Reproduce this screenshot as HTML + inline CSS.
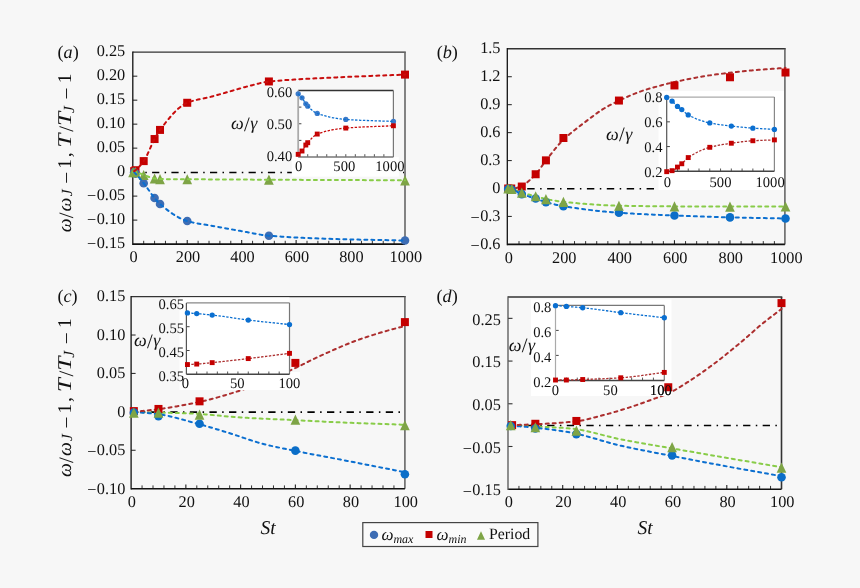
<!DOCTYPE html>
<html><head><meta charset="utf-8"><style>
html,body{margin:0;padding:0;background:#f7f7f7;}
body{width:860px;height:588px;overflow:hidden;font-family:"Liberation Serif",serif;}
svg{display:block;will-change:transform;}
</style></head><body>
<svg width="860" height="588" viewBox="0 0 860 588" font-family='"Liberation Serif", serif' text-rendering="geometricPrecision">
<rect width="860" height="588" fill="#f7f7f7"/>
<line x1="132.80" y1="76.19" x2="137.30" y2="76.19" stroke="#333" stroke-width="1.1"/>
<line x1="132.80" y1="100.18" x2="137.30" y2="100.18" stroke="#333" stroke-width="1.1"/>
<line x1="132.80" y1="124.16" x2="137.30" y2="124.16" stroke="#333" stroke-width="1.1"/>
<line x1="132.80" y1="148.15" x2="137.30" y2="148.15" stroke="#333" stroke-width="1.1"/>
<line x1="132.80" y1="172.14" x2="137.30" y2="172.14" stroke="#333" stroke-width="1.1"/>
<line x1="132.80" y1="196.12" x2="137.30" y2="196.12" stroke="#333" stroke-width="1.1"/>
<line x1="132.80" y1="220.11" x2="137.30" y2="220.11" stroke="#333" stroke-width="1.1"/>
<line x1="143.69" y1="244.10" x2="143.69" y2="240.80" stroke="#333" stroke-width="1.0"/>
<line x1="154.58" y1="244.10" x2="154.58" y2="240.80" stroke="#333" stroke-width="1.0"/>
<line x1="165.46" y1="244.10" x2="165.46" y2="240.80" stroke="#333" stroke-width="1.0"/>
<line x1="176.35" y1="244.10" x2="176.35" y2="240.80" stroke="#333" stroke-width="1.0"/>
<line x1="198.13" y1="244.10" x2="198.13" y2="240.80" stroke="#333" stroke-width="1.0"/>
<line x1="209.02" y1="244.10" x2="209.02" y2="240.80" stroke="#333" stroke-width="1.0"/>
<line x1="219.90" y1="244.10" x2="219.90" y2="240.80" stroke="#333" stroke-width="1.0"/>
<line x1="230.79" y1="244.10" x2="230.79" y2="240.80" stroke="#333" stroke-width="1.0"/>
<line x1="252.57" y1="244.10" x2="252.57" y2="240.80" stroke="#333" stroke-width="1.0"/>
<line x1="263.46" y1="244.10" x2="263.46" y2="240.80" stroke="#333" stroke-width="1.0"/>
<line x1="274.34" y1="244.10" x2="274.34" y2="240.80" stroke="#333" stroke-width="1.0"/>
<line x1="285.23" y1="244.10" x2="285.23" y2="240.80" stroke="#333" stroke-width="1.0"/>
<line x1="307.01" y1="244.10" x2="307.01" y2="240.80" stroke="#333" stroke-width="1.0"/>
<line x1="317.90" y1="244.10" x2="317.90" y2="240.80" stroke="#333" stroke-width="1.0"/>
<line x1="328.78" y1="244.10" x2="328.78" y2="240.80" stroke="#333" stroke-width="1.0"/>
<line x1="339.67" y1="244.10" x2="339.67" y2="240.80" stroke="#333" stroke-width="1.0"/>
<line x1="361.45" y1="244.10" x2="361.45" y2="240.80" stroke="#333" stroke-width="1.0"/>
<line x1="372.34" y1="244.10" x2="372.34" y2="240.80" stroke="#333" stroke-width="1.0"/>
<line x1="383.22" y1="244.10" x2="383.22" y2="240.80" stroke="#333" stroke-width="1.0"/>
<line x1="394.11" y1="244.10" x2="394.11" y2="240.80" stroke="#333" stroke-width="1.0"/>
<line x1="187.24" y1="244.10" x2="187.24" y2="239.90" stroke="#222" stroke-width="1.1"/>
<line x1="241.68" y1="244.10" x2="241.68" y2="239.90" stroke="#222" stroke-width="1.1"/>
<line x1="296.12" y1="244.10" x2="296.12" y2="239.90" stroke="#222" stroke-width="1.1"/>
<line x1="350.56" y1="244.10" x2="350.56" y2="239.90" stroke="#222" stroke-width="1.1"/>
<line x1="132.80" y1="52.20" x2="405.80" y2="52.20" stroke="#333" stroke-width="1.30"/>
<line x1="405.00" y1="52.20" x2="405.00" y2="244.10" stroke="#666" stroke-width="1.60"/>
<line x1="132.80" y1="244.10" x2="405.00" y2="244.10" stroke="#111" stroke-width="1.60"/>
<line x1="132.80" y1="51.55" x2="132.80" y2="244.90" stroke="#111" stroke-width="1.30"/>
<line x1="132.80" y1="172.44" x2="404.00" y2="172.44" stroke="#000" stroke-width="1.6" stroke-dasharray="7.20 5.30 1.5 5.30"/>
<rect x="130.16" y="167.18" width="8.00" height="8.00" fill="#c40000"/>
<rect x="131.52" y="166.22" width="8.00" height="8.00" fill="#c40000"/>
<rect x="139.69" y="157.10" width="8.00" height="8.00" fill="#c40000"/>
<rect x="150.58" y="135.03" width="8.00" height="8.00" fill="#c40000"/>
<rect x="156.02" y="125.92" width="8.00" height="8.00" fill="#c40000"/>
<rect x="183.24" y="98.77" width="8.00" height="8.00" fill="#c40000"/>
<rect x="264.90" y="77.46" width="8.00" height="8.00" fill="#c40000"/>
<rect x="401.00" y="70.60" width="8.00" height="8.00" fill="#c40000"/>
<circle cx="134.16" cy="172.14" r="4.30" fill="#3d6db4"/>
<circle cx="135.52" cy="173.58" r="4.30" fill="#3d6db4"/>
<circle cx="143.69" cy="183.17" r="4.30" fill="#3d6db4"/>
<circle cx="154.58" cy="198.04" r="4.30" fill="#3d6db4"/>
<circle cx="160.02" cy="204.04" r="4.30" fill="#3d6db4"/>
<circle cx="187.24" cy="221.07" r="4.30" fill="#3d6db4"/>
<circle cx="268.90" cy="235.70" r="4.30" fill="#3d6db4"/>
<circle cx="405.00" cy="240.50" r="4.30" fill="#3d6db4"/>
<path d="M133.07 167.04 L137.92 177.24 L128.23 177.24 Z" fill="#7ea446"/>
<path d="M135.52 167.04 L140.37 177.24 L130.68 177.24 Z" fill="#7ea446"/>
<path d="M143.69 169.92 L148.53 180.12 L138.84 180.12 Z" fill="#7ea446"/>
<path d="M154.58 173.42 L159.42 183.62 L149.73 183.62 Z" fill="#7ea446"/>
<path d="M160.02 173.95 L164.87 184.15 L155.18 184.15 Z" fill="#7ea446"/>
<path d="M187.24 174.14 L192.09 184.34 L182.40 184.34 Z" fill="#7ea446"/>
<path d="M268.90 174.62 L273.75 184.82 L264.05 184.82 Z" fill="#7ea446"/>
<path d="M405.00 175.19 L409.85 185.39 L400.15 185.39 Z" fill="#7ea446"/>
<path d="M133.07 172.14 L133.23 172.14 L133.38 172.14 L133.53 172.14 L133.68 172.14 L133.84 172.14 L133.99 172.14 L134.14 172.14 L134.30 172.14 L134.45 172.14 L134.60 172.14 L134.76 172.14 L134.91 172.14 L135.06 172.14 L135.22 172.14 L135.37 172.14 L135.52 172.14 L136.03 172.16 L136.54 172.22 L137.05 172.32 L137.56 172.46 L138.07 172.62 L138.58 172.81 L139.09 173.01 L139.61 173.23 L140.12 173.46 L140.63 173.70 L141.14 173.94 L141.65 174.18 L142.16 174.41 L142.67 174.63 L143.18 174.83 L143.69 175.02 L144.37 175.25 L145.05 175.50 L145.73 175.75 L146.41 176.01 L147.09 176.27 L147.77 176.53 L148.45 176.78 L149.13 177.03 L149.81 177.28 L150.49 177.51 L151.17 177.73 L151.85 177.93 L152.53 178.11 L153.22 178.27 L153.90 178.41 L154.58 178.52 L154.92 178.57 L155.26 178.61 L155.60 178.66 L155.94 178.70 L156.28 178.75 L156.62 178.79 L156.96 178.83 L157.30 178.87 L157.64 178.90 L157.98 178.93 L158.32 178.96 L158.66 178.99 L159.00 179.01 L159.34 179.03 L159.68 179.04 L160.02 179.05 L161.72 179.07 L163.42 179.09 L165.12 179.11 L166.83 179.13 L168.53 179.14 L170.23 179.16 L171.93 179.17 L173.63 179.18 L175.33 179.18 L177.03 179.19 L178.73 179.20 L180.44 179.20 L182.14 179.21 L183.84 179.22 L185.54 179.23 L187.24 179.24 L192.34 179.27 L197.45 179.30 L202.55 179.34 L207.66 179.37 L212.76 179.40 L217.86 179.43 L222.97 179.46 L228.07 179.49 L233.17 179.52 L238.28 179.55 L243.38 179.58 L248.49 179.61 L253.59 179.64 L258.69 179.67 L263.80 179.69 L268.90 179.72 L277.41 179.76 L285.91 179.80 L294.42 179.84 L302.93 179.88 L311.43 179.91 L319.94 179.95 L328.44 179.98 L336.95 180.02 L345.46 180.05 L353.96 180.09 L362.47 180.12 L370.98 180.15 L379.48 180.19 L387.99 180.22 L396.49 180.26 L405.00 180.29" fill="none" stroke="#88cc48" stroke-width="2.00" stroke-dasharray="3.0 4.0" stroke-linecap="round"/>
<path d="M134.16 172.14 L134.25 172.23 L134.33 172.32 L134.42 172.41 L134.50 172.49 L134.59 172.58 L134.67 172.67 L134.76 172.76 L134.84 172.85 L134.93 172.94 L135.01 173.03 L135.10 173.12 L135.18 173.21 L135.27 173.30 L135.35 173.39 L135.44 173.48 L135.52 173.58 L136.03 174.14 L136.54 174.71 L137.05 175.28 L137.56 175.86 L138.07 176.44 L138.58 177.02 L139.09 177.62 L139.61 178.21 L140.12 178.81 L140.63 179.42 L141.14 180.03 L141.65 180.65 L142.16 181.27 L142.67 181.90 L143.18 182.53 L143.69 183.17 L144.37 184.04 L145.05 184.94 L145.73 185.87 L146.41 186.81 L147.09 187.76 L147.77 188.73 L148.45 189.71 L149.13 190.68 L149.81 191.65 L150.49 192.62 L151.17 193.58 L151.85 194.52 L152.53 195.44 L153.22 196.34 L153.90 197.21 L154.58 198.04 L154.92 198.45 L155.26 198.87 L155.60 199.28 L155.94 199.69 L156.28 200.09 L156.62 200.50 L156.96 200.89 L157.30 201.28 L157.64 201.67 L157.98 202.04 L158.32 202.41 L158.66 202.76 L159.00 203.10 L159.34 203.43 L159.68 203.74 L160.02 204.04 L161.72 205.47 L163.42 206.88 L165.12 208.25 L166.83 209.59 L168.53 210.88 L170.23 212.13 L171.93 213.32 L173.63 214.46 L175.33 215.54 L177.03 216.56 L178.73 217.51 L180.44 218.39 L182.14 219.18 L183.84 219.90 L185.54 220.53 L187.24 221.07 L188.94 221.54 L190.64 221.98 L192.34 222.38 L194.05 222.75 L195.75 223.09 L197.45 223.41 L199.15 223.71 L200.85 224.00 L202.55 224.27 L204.25 224.54 L205.95 224.80 L207.66 225.06 L209.36 225.33 L211.06 225.61 L212.76 225.90 L214.46 226.21 L216.16 226.52 L217.86 226.83 L219.56 227.15 L221.27 227.46 L222.97 227.78 L224.67 228.09 L226.37 228.40 L228.07 228.71 L229.77 229.02 L231.47 229.33 L233.17 229.64 L234.88 229.94 L236.58 230.25 L238.28 230.55 L239.98 230.85 L241.68 231.15 L243.38 231.45 L245.08 231.77 L246.78 232.09 L248.49 232.42 L250.19 232.75 L251.89 233.09 L253.59 233.41 L255.29 233.74 L256.99 234.05 L258.69 234.35 L260.39 234.63 L262.10 234.90 L263.80 235.14 L265.50 235.36 L267.20 235.55 L268.90 235.70 L273.15 236.04 L277.41 236.36 L281.66 236.65 L285.91 236.93 L290.17 237.18 L294.42 237.41 L298.67 237.63 L302.93 237.83 L307.18 238.02 L311.43 238.20 L315.68 238.36 L319.94 238.52 L324.19 238.66 L328.44 238.80 L332.70 238.93 L336.95 239.06 L341.20 239.18 L345.46 239.30 L349.71 239.40 L353.96 239.50 L358.22 239.60 L362.47 239.69 L366.72 239.77 L370.98 239.85 L375.23 239.93 L379.48 240.01 L383.73 240.09 L387.99 240.17 L392.24 240.25 L396.49 240.33 L400.75 240.41 L405.00 240.50" fill="none" stroke="#0b6fd0" stroke-width="2.00" stroke-dasharray="3.0 4.0" stroke-linecap="round"/>
<path d="M134.16 171.18 L134.25 171.12 L134.33 171.06 L134.42 171.00 L134.50 170.95 L134.59 170.89 L134.67 170.83 L134.76 170.78 L134.84 170.72 L134.93 170.66 L135.01 170.60 L135.10 170.54 L135.18 170.48 L135.27 170.42 L135.35 170.35 L135.44 170.29 L135.52 170.22 L136.03 169.79 L136.54 169.34 L137.05 168.88 L137.56 168.40 L138.07 167.89 L138.58 167.37 L139.09 166.83 L139.61 166.27 L140.12 165.69 L140.63 165.10 L141.14 164.48 L141.65 163.84 L142.16 163.19 L142.67 162.51 L143.18 161.82 L143.69 161.10 L144.37 160.08 L145.05 158.95 L145.73 157.72 L146.41 156.41 L147.09 155.03 L147.77 153.59 L148.45 152.11 L149.13 150.61 L149.81 149.08 L150.49 147.55 L151.17 146.03 L151.85 144.54 L152.53 143.08 L153.22 141.66 L153.90 140.31 L154.58 139.03 L154.92 138.42 L155.26 137.80 L155.60 137.18 L155.94 136.56 L156.28 135.95 L156.62 135.34 L156.96 134.74 L157.30 134.14 L157.64 133.56 L157.98 132.99 L158.32 132.44 L158.66 131.89 L159.00 131.37 L159.34 130.87 L159.68 130.38 L160.02 129.92 L161.72 127.67 L163.42 125.45 L165.12 123.26 L166.83 121.12 L168.53 119.03 L170.23 117.00 L171.93 115.06 L173.63 113.20 L175.33 111.43 L177.03 109.78 L178.73 108.25 L180.44 106.85 L182.14 105.59 L183.84 104.48 L185.54 103.54 L187.24 102.77 L188.78 102.18 L190.32 101.65 L191.86 101.16 L193.40 100.72 L194.94 100.31 L196.48 99.93 L198.02 99.58 L199.56 99.24 L201.10 98.92 L202.64 98.61 L204.18 98.29 L205.72 97.97 L207.26 97.64 L208.79 97.30 L210.33 96.93 L211.87 96.53 L213.15 96.18 L214.42 95.83 L215.70 95.48 L216.97 95.12 L218.25 94.76 L219.52 94.40 L220.79 94.03 L222.07 93.66 L223.34 93.29 L224.62 92.92 L225.89 92.55 L227.16 92.19 L228.44 91.82 L229.71 91.45 L230.99 91.09 L232.26 90.72 L233.36 90.41 L234.46 90.09 L235.56 89.78 L236.66 89.46 L237.76 89.13 L238.86 88.81 L239.95 88.49 L241.05 88.17 L242.15 87.86 L243.25 87.54 L244.35 87.24 L245.45 86.93 L246.55 86.63 L247.65 86.34 L248.75 86.06 L249.85 85.78 L251.04 85.49 L252.23 85.18 L253.42 84.87 L254.61 84.57 L255.80 84.26 L256.99 83.95 L258.18 83.66 L259.37 83.37 L260.56 83.09 L261.75 82.82 L262.95 82.57 L264.14 82.33 L265.33 82.11 L266.52 81.92 L267.71 81.75 L268.90 81.61 L273.15 81.17 L277.41 80.77 L281.66 80.41 L285.91 80.07 L290.17 79.77 L294.42 79.49 L298.67 79.24 L302.93 79.00 L307.18 78.78 L311.43 78.57 L315.68 78.37 L319.94 78.17 L324.19 77.98 L328.44 77.79 L332.70 77.59 L336.95 77.39 L341.20 77.18 L345.46 76.98 L349.71 76.79 L353.96 76.61 L358.22 76.43 L362.47 76.26 L366.72 76.09 L370.98 75.92 L375.23 75.76 L379.48 75.60 L383.73 75.44 L387.99 75.27 L392.24 75.11 L396.49 74.94 L400.75 74.78 L405.00 74.60" fill="none" stroke="#c80c0c" stroke-width="2.00" stroke-dasharray="3.0 4.0" stroke-linecap="round"/>
<rect x="297.80" y="90.50" width="95.60" height="66.50" fill="#fff"/>
<rect x="291.80" y="157.00" width="107.00" height="19.60" fill="#fff"/>
<line x1="298.20" y1="140.38" x2="301.40" y2="140.38" stroke="#444" stroke-width="1"/>
<line x1="298.20" y1="123.75" x2="301.40" y2="123.75" stroke="#444" stroke-width="1"/>
<line x1="298.20" y1="107.12" x2="301.40" y2="107.12" stroke="#444" stroke-width="1"/>
<line x1="307.72" y1="157.00" x2="307.72" y2="154.20" stroke="#555" stroke-width="1"/>
<line x1="317.24" y1="157.00" x2="317.24" y2="154.20" stroke="#555" stroke-width="1"/>
<line x1="326.76" y1="157.00" x2="326.76" y2="154.20" stroke="#555" stroke-width="1"/>
<line x1="336.28" y1="157.00" x2="336.28" y2="154.20" stroke="#555" stroke-width="1"/>
<line x1="345.80" y1="157.00" x2="345.80" y2="154.20" stroke="#555" stroke-width="1"/>
<line x1="355.32" y1="157.00" x2="355.32" y2="154.20" stroke="#555" stroke-width="1"/>
<line x1="364.84" y1="157.00" x2="364.84" y2="154.20" stroke="#555" stroke-width="1"/>
<line x1="374.36" y1="157.00" x2="374.36" y2="154.20" stroke="#555" stroke-width="1"/>
<line x1="383.88" y1="157.00" x2="383.88" y2="154.20" stroke="#555" stroke-width="1"/>
<line x1="298.20" y1="90.50" x2="393.40" y2="90.50" stroke="#333" stroke-width="1.40"/>
<line x1="393.40" y1="90.50" x2="393.40" y2="157.00" stroke="#777" stroke-width="1.20"/>
<line x1="298.20" y1="157.00" x2="393.40" y2="157.00" stroke="#777" stroke-width="1.40"/>
<line x1="298.20" y1="90.50" x2="298.20" y2="157.00" stroke="#aaa" stroke-width="1.80"/>
<circle cx="298.20" cy="93.83" r="2.65" fill="#3b7ac9"/>
<circle cx="302.01" cy="97.81" r="2.65" fill="#3b7ac9"/>
<circle cx="305.82" cy="103.80" r="2.65" fill="#3b7ac9"/>
<circle cx="307.72" cy="106.13" r="2.65" fill="#3b7ac9"/>
<circle cx="317.24" cy="113.44" r="2.65" fill="#3b7ac9"/>
<circle cx="345.80" cy="119.43" r="2.65" fill="#3b7ac9"/>
<circle cx="393.40" cy="121.42" r="2.65" fill="#3b7ac9"/>
<rect x="295.75" y="151.89" width="4.90" height="4.90" fill="#c40000"/>
<rect x="299.56" y="148.57" width="4.90" height="4.90" fill="#c40000"/>
<rect x="303.37" y="142.58" width="4.90" height="4.90" fill="#c40000"/>
<rect x="305.27" y="140.25" width="4.90" height="4.90" fill="#c40000"/>
<rect x="314.79" y="131.61" width="4.90" height="4.90" fill="#c40000"/>
<rect x="343.35" y="125.62" width="4.90" height="4.90" fill="#c40000"/>
<rect x="390.95" y="123.30" width="4.90" height="4.90" fill="#c40000"/>
<path d="M298.20 93.83 L298.44 94.07 L298.68 94.31 L298.91 94.55 L299.15 94.79 L299.39 95.02 L299.63 95.25 L299.87 95.48 L300.10 95.72 L300.34 95.96 L300.58 96.20 L300.82 96.45 L301.06 96.71 L301.29 96.97 L301.53 97.24 L301.77 97.52 L302.01 97.81 L302.25 98.13 L302.48 98.46 L302.72 98.81 L302.96 99.18 L303.20 99.56 L303.44 99.96 L303.67 100.36 L303.91 100.76 L304.15 101.17 L304.39 101.57 L304.63 101.97 L304.86 102.36 L305.10 102.75 L305.34 103.11 L305.58 103.47 L305.82 103.80 L305.94 103.96 L306.05 104.12 L306.17 104.28 L306.29 104.44 L306.41 104.59 L306.53 104.75 L306.65 104.90 L306.77 105.05 L306.89 105.20 L307.01 105.34 L307.12 105.48 L307.24 105.62 L307.36 105.75 L307.48 105.88 L307.60 106.01 L307.72 106.13 L308.31 106.72 L308.91 107.30 L309.50 107.87 L310.10 108.44 L310.69 108.99 L311.29 109.52 L311.88 110.04 L312.48 110.53 L313.07 111.01 L313.67 111.45 L314.26 111.87 L314.86 112.26 L315.45 112.61 L316.05 112.93 L316.64 113.20 L317.24 113.44 L319.02 114.07 L320.81 114.67 L322.59 115.22 L324.38 115.74 L326.16 116.22 L327.95 116.67 L329.74 117.09 L331.52 117.47 L333.31 117.82 L335.09 118.14 L336.88 118.43 L338.66 118.68 L340.44 118.91 L342.23 119.11 L344.01 119.28 L345.80 119.43 L348.77 119.64 L351.75 119.82 L354.72 119.99 L357.70 120.14 L360.67 120.28 L363.65 120.40 L366.62 120.51 L369.60 120.62 L372.57 120.71 L375.55 120.81 L378.52 120.90 L381.50 121.00 L384.47 121.09 L387.45 121.19 L390.42 121.30 L393.40 121.42" fill="none" stroke="#0b6fd0" stroke-width="1.3" stroke-dasharray="2.4 1.5"/>
<path d="M298.20 154.34 L298.44 154.14 L298.68 153.94 L298.91 153.74 L299.15 153.55 L299.39 153.36 L299.63 153.18 L299.87 152.99 L300.10 152.80 L300.34 152.60 L300.58 152.40 L300.82 152.19 L301.06 151.98 L301.29 151.76 L301.53 151.52 L301.77 151.27 L302.01 151.02 L302.25 150.73 L302.48 150.42 L302.72 150.08 L302.96 149.72 L303.20 149.34 L303.44 148.95 L303.67 148.55 L303.91 148.13 L304.15 147.72 L304.39 147.30 L304.63 146.89 L304.86 146.49 L305.10 146.10 L305.34 145.72 L305.58 145.37 L305.82 145.03 L305.94 144.87 L306.05 144.71 L306.17 144.55 L306.29 144.40 L306.41 144.25 L306.53 144.10 L306.65 143.95 L306.77 143.80 L306.89 143.66 L307.01 143.51 L307.12 143.37 L307.24 143.23 L307.36 143.10 L307.48 142.96 L307.60 142.83 L307.72 142.70 L308.31 142.06 L308.91 141.40 L309.50 140.74 L310.10 140.08 L310.69 139.43 L311.29 138.78 L311.88 138.16 L312.48 137.55 L313.07 136.97 L313.67 136.42 L314.26 135.91 L314.86 135.44 L315.45 135.01 L316.05 134.64 L316.64 134.32 L317.24 134.06 L319.02 133.40 L320.81 132.79 L322.59 132.23 L324.38 131.71 L326.16 131.23 L327.95 130.78 L329.74 130.38 L331.52 130.01 L333.31 129.67 L335.09 129.36 L336.88 129.08 L338.66 128.83 L340.44 128.61 L342.23 128.41 L344.01 128.23 L345.80 128.07 L348.77 127.84 L351.75 127.62 L354.72 127.43 L357.70 127.26 L360.67 127.10 L363.65 126.96 L366.62 126.83 L369.60 126.70 L372.57 126.59 L375.55 126.47 L378.52 126.36 L381.50 126.25 L384.47 126.13 L387.45 126.01 L390.42 125.88 L393.40 125.75" fill="none" stroke="#c80c0c" stroke-width="1.3" stroke-dasharray="2.4 1.5"/>
<text x="292.20" y="161.30" font-size="14.60" text-anchor="end" fill="#111">0.40</text>
<text x="292.20" y="128.65" font-size="14.60" text-anchor="end" fill="#111">0.50</text>
<text x="292.20" y="97.30" font-size="14.60" text-anchor="end" fill="#111">0.60</text>
<text x="298.70" y="171.00" font-size="14.60" text-anchor="middle" fill="#111">0</text>
<text x="344.30" y="171.00" font-size="14.60" text-anchor="middle" fill="#111">500</text>
<text x="389.90" y="171.00" font-size="14.60" text-anchor="middle" fill="#111">1000</text>
<text x="231.00" y="129.20" font-size="18" font-style="italic" fill="#111">ω<tspan font-style="normal" font-size="20.5" dx="0.2" dy="1.8">/</tspan><tspan dx="0.6" dy="-1.8">γ</tspan></text>
<text x="125.20" y="55.80" font-size="16.30" text-anchor="end" fill="#111">0.25</text>
<text x="125.20" y="79.79" font-size="16.30" text-anchor="end" fill="#111">0.20</text>
<text x="125.20" y="103.78" font-size="16.30" text-anchor="end" fill="#111">0.15</text>
<text x="125.20" y="127.76" font-size="16.30" text-anchor="end" fill="#111">0.10</text>
<text x="125.20" y="151.75" font-size="16.30" text-anchor="end" fill="#111">0.05</text>
<text x="125.20" y="175.74" font-size="16.30" text-anchor="end" fill="#111">0</text>
<text x="125.20" y="199.72" font-size="16.30" text-anchor="end" fill="#111"><tspan dy="1.6">−</tspan><tspan dy="-1.6" dx="0.4">0.05</tspan></text>
<text x="125.20" y="223.71" font-size="16.30" text-anchor="end" fill="#111"><tspan dy="1.6">−</tspan><tspan dy="-1.6" dx="0.4">0.10</tspan></text>
<text x="125.20" y="247.70" font-size="16.30" text-anchor="end" fill="#111"><tspan dy="1.6">−</tspan><tspan dy="-1.6" dx="0.4">0.15</tspan></text>
<text x="133.60" y="261.60" font-size="16.30" text-anchor="middle" fill="#111">0</text>
<text x="188.04" y="261.60" font-size="16.30" text-anchor="middle" fill="#111">200</text>
<text x="242.48" y="261.60" font-size="16.30" text-anchor="middle" fill="#111">400</text>
<text x="296.92" y="261.60" font-size="16.30" text-anchor="middle" fill="#111">600</text>
<text x="351.36" y="261.60" font-size="16.30" text-anchor="middle" fill="#111">800</text>
<text x="405.80" y="261.60" font-size="16.30" text-anchor="middle" fill="#111">1000</text>
<line x1="507.30" y1="76.70" x2="511.80" y2="76.70" stroke="#333" stroke-width="1.1"/>
<line x1="507.30" y1="104.65" x2="511.80" y2="104.65" stroke="#333" stroke-width="1.1"/>
<line x1="507.30" y1="132.60" x2="511.80" y2="132.60" stroke="#333" stroke-width="1.1"/>
<line x1="507.30" y1="160.55" x2="511.80" y2="160.55" stroke="#333" stroke-width="1.1"/>
<line x1="507.30" y1="188.50" x2="511.80" y2="188.50" stroke="#333" stroke-width="1.1"/>
<line x1="507.30" y1="216.45" x2="511.80" y2="216.45" stroke="#333" stroke-width="1.1"/>
<line x1="519.00" y1="244.40" x2="519.00" y2="241.10" stroke="#333" stroke-width="1.0"/>
<line x1="530.11" y1="244.40" x2="530.11" y2="241.10" stroke="#333" stroke-width="1.0"/>
<line x1="541.21" y1="244.40" x2="541.21" y2="241.10" stroke="#333" stroke-width="1.0"/>
<line x1="552.32" y1="244.40" x2="552.32" y2="241.10" stroke="#333" stroke-width="1.0"/>
<line x1="574.52" y1="244.40" x2="574.52" y2="241.10" stroke="#333" stroke-width="1.0"/>
<line x1="585.63" y1="244.40" x2="585.63" y2="241.10" stroke="#333" stroke-width="1.0"/>
<line x1="596.73" y1="244.40" x2="596.73" y2="241.10" stroke="#333" stroke-width="1.0"/>
<line x1="607.84" y1="244.40" x2="607.84" y2="241.10" stroke="#333" stroke-width="1.0"/>
<line x1="630.04" y1="244.40" x2="630.04" y2="241.10" stroke="#333" stroke-width="1.0"/>
<line x1="641.15" y1="244.40" x2="641.15" y2="241.10" stroke="#333" stroke-width="1.0"/>
<line x1="652.25" y1="244.40" x2="652.25" y2="241.10" stroke="#333" stroke-width="1.0"/>
<line x1="663.36" y1="244.40" x2="663.36" y2="241.10" stroke="#333" stroke-width="1.0"/>
<line x1="685.56" y1="244.40" x2="685.56" y2="241.10" stroke="#333" stroke-width="1.0"/>
<line x1="696.67" y1="244.40" x2="696.67" y2="241.10" stroke="#333" stroke-width="1.0"/>
<line x1="707.77" y1="244.40" x2="707.77" y2="241.10" stroke="#333" stroke-width="1.0"/>
<line x1="718.88" y1="244.40" x2="718.88" y2="241.10" stroke="#333" stroke-width="1.0"/>
<line x1="741.08" y1="244.40" x2="741.08" y2="241.10" stroke="#333" stroke-width="1.0"/>
<line x1="752.19" y1="244.40" x2="752.19" y2="241.10" stroke="#333" stroke-width="1.0"/>
<line x1="763.29" y1="244.40" x2="763.29" y2="241.10" stroke="#333" stroke-width="1.0"/>
<line x1="774.40" y1="244.40" x2="774.40" y2="241.10" stroke="#333" stroke-width="1.0"/>
<line x1="563.42" y1="244.40" x2="563.42" y2="240.20" stroke="#222" stroke-width="1.1"/>
<line x1="618.94" y1="244.40" x2="618.94" y2="240.20" stroke="#222" stroke-width="1.1"/>
<line x1="674.46" y1="244.40" x2="674.46" y2="240.20" stroke="#222" stroke-width="1.1"/>
<line x1="729.98" y1="244.40" x2="729.98" y2="240.20" stroke="#222" stroke-width="1.1"/>
<line x1="507.30" y1="48.75" x2="785.70" y2="48.75" stroke="#333" stroke-width="1.30"/>
<line x1="784.90" y1="48.75" x2="784.90" y2="244.40" stroke="#666" stroke-width="1.60"/>
<line x1="507.30" y1="244.40" x2="784.90" y2="244.40" stroke="#111" stroke-width="1.60"/>
<line x1="507.30" y1="48.10" x2="507.30" y2="245.20" stroke="#111" stroke-width="1.30"/>
<line x1="507.30" y1="188.80" x2="783.90" y2="188.80" stroke="#000" stroke-width="1.6" stroke-dasharray="7.42 5.49 1.5 5.49"/>
<path d="M508.18 188.50 L508.40 188.53 L508.63 188.56 L508.85 188.58 L509.08 188.61 L509.31 188.63 L509.53 188.66 L509.76 188.68 L509.98 188.71 L510.21 188.74 L510.43 188.77 L510.66 188.79 L510.88 188.82 L511.11 188.86 L511.34 188.89 L511.56 188.93 L511.79 188.97 L512.41 189.09 L513.04 189.25 L513.66 189.44 L514.28 189.66 L514.91 189.89 L515.53 190.14 L516.16 190.40 L516.78 190.67 L517.41 190.95 L518.03 191.22 L518.66 191.50 L519.28 191.76 L519.91 192.02 L520.53 192.26 L521.16 192.49 L521.78 192.69 L522.65 192.95 L523.51 193.20 L524.38 193.44 L525.25 193.67 L526.12 193.90 L526.99 194.11 L527.85 194.33 L528.72 194.54 L529.59 194.74 L530.46 194.95 L531.32 195.16 L532.19 195.36 L533.06 195.57 L533.93 195.79 L534.79 196.01 L535.66 196.23 L536.30 196.41 L536.94 196.58 L537.59 196.77 L538.23 196.95 L538.87 197.14 L539.51 197.33 L540.15 197.52 L540.80 197.70 L541.44 197.89 L542.08 198.07 L542.72 198.25 L543.36 198.42 L544.01 198.59 L544.65 198.74 L545.29 198.89 L545.93 199.03 L547.02 199.25 L548.12 199.47 L549.21 199.68 L550.30 199.89 L551.40 200.09 L552.49 200.28 L553.58 200.47 L554.68 200.65 L555.77 200.82 L556.86 200.99 L557.95 201.15 L559.05 201.30 L560.14 201.44 L561.23 201.58 L562.33 201.70 L563.42 201.82 L566.89 202.18 L570.36 202.53 L573.83 202.87 L577.30 203.20 L580.77 203.52 L584.24 203.82 L587.71 204.10 L591.18 204.37 L594.65 204.62 L598.12 204.85 L601.59 205.05 L605.06 205.24 L608.53 205.40 L612.00 205.54 L615.47 205.65 L618.94 205.74 L622.41 205.80 L625.88 205.87 L629.35 205.93 L632.82 205.98 L636.29 206.03 L639.76 206.08 L643.23 206.12 L646.70 206.17 L650.17 206.20 L653.64 206.24 L657.11 206.27 L660.58 206.30 L664.05 206.32 L667.52 206.35 L670.99 206.37 L674.46 206.39 L677.93 206.41 L681.40 206.42 L684.87 206.44 L688.34 206.46 L691.81 206.47 L695.28 206.49 L698.75 206.50 L702.22 206.52 L705.69 206.53 L709.16 206.54 L712.63 206.55 L716.10 206.56 L719.57 206.57 L723.04 206.57 L726.51 206.57 L729.98 206.57 L733.45 206.57 L736.92 206.57 L740.39 206.57 L743.86 206.56 L747.33 206.56 L750.80 206.55 L754.27 206.55 L757.74 206.54 L761.21 206.53 L764.68 206.52 L768.15 206.52 L771.62 206.51 L775.09 206.50 L778.56 206.49 L782.03 206.49 L785.50 206.48" fill="none" stroke="#88cc48" stroke-width="2.00" stroke-dasharray="3.0 4.0" stroke-linecap="round"/>
<path d="M508.18 188.97 L508.39 188.99 L508.59 189.02 L508.80 189.05 L509.01 189.07 L509.22 189.10 L509.43 189.12 L509.64 189.15 L509.84 189.18 L510.05 189.20 L510.26 189.23 L510.47 189.26 L510.68 189.29 L510.88 189.32 L511.09 189.36 L511.30 189.39 L511.51 189.43 L512.15 189.58 L512.79 189.77 L513.43 190.00 L514.08 190.26 L514.72 190.55 L515.36 190.86 L516.00 191.19 L516.64 191.52 L517.29 191.87 L517.93 192.22 L518.57 192.57 L519.21 192.91 L519.85 193.23 L520.50 193.54 L521.14 193.83 L521.78 194.09 L522.65 194.41 L523.51 194.72 L524.38 195.02 L525.25 195.31 L526.12 195.60 L526.99 195.87 L527.85 196.14 L528.72 196.41 L529.59 196.67 L530.46 196.93 L531.32 197.19 L532.19 197.46 L533.06 197.73 L533.93 198.00 L534.79 198.28 L535.66 198.56 L536.30 198.78 L536.94 199.00 L537.59 199.23 L538.23 199.46 L538.87 199.69 L539.51 199.93 L540.15 200.16 L540.80 200.40 L541.44 200.63 L542.08 200.86 L542.72 201.08 L543.36 201.30 L544.01 201.51 L544.65 201.72 L545.29 201.92 L545.93 202.10 L547.02 202.41 L548.12 202.71 L549.21 203.01 L550.30 203.30 L551.40 203.59 L552.49 203.87 L553.58 204.14 L554.68 204.41 L555.77 204.67 L556.86 204.92 L557.95 205.16 L559.05 205.39 L560.14 205.61 L561.23 205.82 L562.33 206.01 L563.42 206.20 L566.89 206.77 L570.36 207.31 L573.83 207.83 L577.30 208.33 L580.77 208.81 L584.24 209.27 L587.71 209.71 L591.18 210.13 L594.65 210.52 L598.12 210.90 L601.59 211.25 L605.06 211.59 L608.53 211.90 L612.00 212.19 L615.47 212.47 L618.94 212.72 L622.41 212.96 L625.88 213.19 L629.35 213.40 L632.82 213.61 L636.29 213.80 L639.76 213.98 L643.23 214.16 L646.70 214.33 L650.17 214.49 L653.64 214.65 L657.11 214.80 L660.58 214.95 L664.05 215.10 L667.52 215.24 L670.99 215.38 L674.46 215.52 L677.93 215.66 L681.40 215.79 L684.87 215.93 L688.34 216.06 L691.81 216.19 L695.28 216.31 L698.75 216.44 L702.22 216.55 L705.69 216.67 L709.16 216.78 L712.63 216.89 L716.10 217.00 L719.57 217.10 L723.04 217.20 L726.51 217.29 L729.98 217.38 L733.45 217.47 L736.92 217.55 L740.39 217.63 L743.86 217.70 L747.33 217.77 L750.80 217.84 L754.27 217.91 L757.74 217.98 L761.21 218.04 L764.68 218.10 L768.15 218.17 L771.62 218.23 L775.09 218.30 L778.56 218.36 L782.03 218.43 L785.50 218.50" fill="none" stroke="#0b6fd0" stroke-width="2.00" stroke-dasharray="3.0 4.0" stroke-linecap="round"/>
<path d="M507.90 188.50 L508.33 188.48 L508.77 188.47 L509.20 188.45 L509.64 188.44 L510.07 188.43 L510.50 188.41 L510.94 188.40 L511.37 188.39 L511.80 188.37 L512.24 188.36 L512.67 188.34 L513.11 188.32 L513.54 188.30 L513.97 188.28 L514.41 188.25 L514.84 188.22 L515.27 188.18 L515.71 188.12 L516.14 188.03 L516.58 187.94 L517.01 187.82 L517.44 187.69 L517.88 187.55 L518.31 187.39 L518.74 187.22 L519.18 187.05 L519.61 186.87 L520.05 186.68 L520.48 186.49 L520.91 186.29 L521.35 186.09 L521.78 185.89 L522.65 185.46 L523.51 184.98 L524.38 184.44 L525.25 183.86 L526.12 183.22 L526.99 182.55 L527.85 181.83 L528.72 181.08 L529.59 180.30 L530.46 179.49 L531.32 178.66 L532.19 177.80 L533.06 176.93 L533.93 176.04 L534.79 175.15 L535.66 174.25 L536.30 173.55 L536.94 172.81 L537.59 172.03 L538.23 171.21 L538.87 170.36 L539.51 169.49 L540.15 168.60 L540.80 167.69 L541.44 166.77 L542.08 165.85 L542.72 164.93 L543.36 164.02 L544.01 163.12 L544.65 162.24 L545.29 161.38 L545.93 160.55 L547.02 159.16 L548.12 157.76 L549.21 156.36 L550.30 154.96 L551.40 153.57 L552.49 152.19 L553.58 150.81 L554.68 149.45 L555.77 148.12 L556.86 146.80 L557.95 145.51 L559.05 144.25 L560.14 143.03 L561.23 141.84 L562.33 140.69 L563.42 139.59 L563.92 139.10 L564.43 138.62 L564.93 138.15 L565.43 137.69 L565.94 137.24 L566.44 136.79 L566.94 136.36 L567.45 135.93 L567.95 135.50 L568.45 135.08 L568.95 134.66 L569.46 134.25 L569.96 133.84 L570.46 133.42 L570.97 133.01 L571.47 132.60 L572.46 131.79 L573.45 130.99 L574.44 130.20 L575.43 129.42 L576.42 128.64 L577.40 127.87 L578.39 127.10 L579.38 126.34 L580.37 125.59 L581.36 124.84 L582.35 124.09 L583.34 123.35 L584.33 122.61 L585.32 121.87 L586.30 121.13 L587.29 120.40 L588.30 119.64 L589.31 118.89 L590.31 118.12 L591.32 117.36 L592.33 116.60 L593.33 115.84 L594.34 115.09 L595.34 114.34 L596.35 113.60 L597.36 112.87 L598.36 112.15 L599.37 111.45 L600.38 110.77 L601.38 110.11 L602.39 109.46 L603.39 108.84 L604.40 108.24 L605.41 107.66 L606.41 107.08 L607.42 106.52 L608.43 105.97 L609.43 105.43 L610.44 104.90 L611.44 104.38 L612.45 103.87 L613.46 103.37 L614.46 102.87 L615.47 102.38 L616.48 101.89 L617.48 101.41 L618.49 100.93 L619.50 100.46 L620.83 99.83 L622.17 99.20 L623.50 98.58 L624.84 97.96 L626.17 97.35 L627.51 96.74 L628.85 96.15 L630.18 95.56 L631.52 94.98 L632.85 94.42 L634.19 93.86 L635.53 93.32 L636.86 92.80 L638.20 92.29 L639.53 91.80 L640.87 91.33 L642.21 90.87 L643.54 90.43 L644.88 89.99 L646.21 89.57 L647.55 89.16 L648.89 88.76 L650.22 88.37 L651.56 87.99 L652.89 87.61 L654.23 87.24 L655.57 86.87 L656.90 86.51 L658.24 86.15 L659.57 85.79 L660.91 85.44 L662.25 85.09 L663.08 84.87 L663.91 84.65 L664.74 84.43 L665.58 84.22 L666.41 84.01 L667.24 83.80 L668.08 83.59 L668.91 83.38 L669.74 83.18 L670.57 82.98 L671.41 82.78 L672.24 82.58 L673.07 82.39 L673.90 82.20 L674.74 82.01 L675.57 81.82 L677.24 81.46 L678.90 81.09 L680.57 80.72 L682.23 80.36 L683.90 80.01 L685.56 79.66 L687.23 79.31 L688.90 78.97 L690.56 78.63 L692.23 78.31 L693.89 77.99 L695.56 77.67 L697.22 77.37 L698.89 77.07 L700.55 76.79 L702.22 76.51 L704.06 76.22 L705.90 75.93 L707.74 75.65 L709.58 75.38 L711.42 75.11 L713.25 74.84 L715.09 74.59 L716.93 74.34 L718.77 74.09 L720.61 73.85 L722.45 73.62 L724.29 73.39 L726.13 73.16 L727.97 72.94 L729.81 72.72 L731.65 72.51 L733.33 72.31 L735.01 72.13 L736.69 71.94 L738.38 71.76 L740.06 71.57 L741.74 71.40 L743.43 71.22 L745.11 71.05 L746.79 70.88 L748.48 70.72 L750.16 70.56 L751.84 70.40 L753.52 70.25 L755.21 70.10 L756.89 69.95 L758.57 69.81 L760.26 69.67 L761.94 69.53 L763.62 69.40 L765.30 69.27 L766.99 69.15 L768.67 69.03 L770.35 68.91 L772.04 68.79 L773.72 68.67 L775.40 68.56 L777.09 68.44 L778.77 68.32 L780.45 68.21 L782.13 68.09 L783.82 67.97 L785.50 67.85" fill="none" stroke="#ac2e2e" stroke-width="2.00" stroke-dasharray="3.0 4.0" stroke-linecap="round"/>
<rect x="504.18" y="184.50" width="8.00" height="8.00" fill="#c40000"/>
<rect x="507.23" y="184.50" width="8.00" height="8.00" fill="#c40000"/>
<rect x="517.78" y="182.54" width="8.00" height="8.00" fill="#c40000"/>
<rect x="531.66" y="170.25" width="8.00" height="8.00" fill="#c40000"/>
<rect x="541.93" y="156.36" width="8.00" height="8.00" fill="#c40000"/>
<rect x="559.42" y="134.00" width="8.00" height="8.00" fill="#c40000"/>
<rect x="614.94" y="96.55" width="8.00" height="8.00" fill="#c40000"/>
<rect x="670.46" y="81.46" width="8.00" height="8.00" fill="#c40000"/>
<rect x="725.98" y="73.26" width="8.00" height="8.00" fill="#c40000"/>
<rect x="781.50" y="68.51" width="8.00" height="8.00" fill="#c40000"/>
<circle cx="508.18" cy="188.97" r="4.30" fill="#0b6ec8"/>
<circle cx="511.51" cy="189.43" r="4.30" fill="#0b6ec8"/>
<circle cx="521.78" cy="194.09" r="4.30" fill="#0b6ec8"/>
<circle cx="535.66" cy="198.56" r="4.30" fill="#0b6ec8"/>
<circle cx="545.93" cy="202.10" r="4.30" fill="#0b6ec8"/>
<circle cx="563.42" cy="206.20" r="4.30" fill="#0b6ec8"/>
<circle cx="618.94" cy="212.72" r="4.30" fill="#0b6ec8"/>
<circle cx="674.46" cy="215.52" r="4.30" fill="#0b6ec8"/>
<circle cx="729.98" cy="217.38" r="4.30" fill="#0b6ec8"/>
<circle cx="785.50" cy="218.50" r="4.30" fill="#0b6ec8"/>
<path d="M508.18 183.40 L513.02 193.60 L503.33 193.60 Z" fill="#7ea446"/>
<path d="M511.79 183.87 L516.63 194.07 L506.94 194.07 Z" fill="#7ea446"/>
<path d="M521.78 187.59 L526.63 197.79 L516.94 197.79 Z" fill="#7ea446"/>
<path d="M535.66 191.13 L540.51 201.33 L530.82 201.33 Z" fill="#7ea446"/>
<path d="M545.93 193.93 L550.78 204.13 L541.09 204.13 Z" fill="#7ea446"/>
<path d="M563.42 196.72 L568.27 206.92 L558.58 206.92 Z" fill="#7ea446"/>
<path d="M618.94 200.64 L623.79 210.84 L614.10 210.84 Z" fill="#7ea446"/>
<path d="M674.46 201.29 L679.31 211.49 L669.62 211.49 Z" fill="#7ea446"/>
<path d="M729.98 201.47 L734.83 211.67 L725.13 211.67 Z" fill="#7ea446"/>
<path d="M785.50 201.38 L790.35 211.58 L780.65 211.58 Z" fill="#7ea446"/>
<rect x="658.50" y="91.00" width="125.50" height="99.00" fill="#fff"/>
<line x1="666.70" y1="146.57" x2="669.90" y2="146.57" stroke="#444" stroke-width="1"/>
<line x1="666.70" y1="121.83" x2="669.90" y2="121.83" stroke="#444" stroke-width="1"/>
<line x1="677.47" y1="171.30" x2="677.47" y2="168.50" stroke="#555" stroke-width="1"/>
<line x1="688.24" y1="171.30" x2="688.24" y2="168.50" stroke="#555" stroke-width="1"/>
<line x1="699.01" y1="171.30" x2="699.01" y2="168.50" stroke="#555" stroke-width="1"/>
<line x1="709.78" y1="171.30" x2="709.78" y2="168.50" stroke="#555" stroke-width="1"/>
<line x1="720.55" y1="171.30" x2="720.55" y2="168.50" stroke="#555" stroke-width="1"/>
<line x1="731.32" y1="171.30" x2="731.32" y2="168.50" stroke="#555" stroke-width="1"/>
<line x1="742.09" y1="171.30" x2="742.09" y2="168.50" stroke="#555" stroke-width="1"/>
<line x1="752.86" y1="171.30" x2="752.86" y2="168.50" stroke="#555" stroke-width="1"/>
<line x1="763.63" y1="171.30" x2="763.63" y2="168.50" stroke="#555" stroke-width="1"/>
<line x1="666.70" y1="97.10" x2="774.40" y2="97.10" stroke="#aaa" stroke-width="1.40"/>
<line x1="774.40" y1="97.10" x2="774.40" y2="171.30" stroke="#888" stroke-width="1.20"/>
<line x1="666.70" y1="171.30" x2="774.40" y2="171.30" stroke="#444" stroke-width="1.50"/>
<line x1="666.70" y1="97.10" x2="666.70" y2="171.30" stroke="#555" stroke-width="1.20"/>
<path d="M666.70 97.47 L667.04 97.70 L667.37 97.93 L667.71 98.15 L668.05 98.37 L668.38 98.59 L668.72 98.81 L669.06 99.03 L669.39 99.25 L669.73 99.47 L670.07 99.70 L670.40 99.93 L670.74 100.17 L671.08 100.41 L671.41 100.66 L671.75 100.92 L672.09 101.18 L672.42 101.46 L672.76 101.76 L673.09 102.07 L673.43 102.39 L673.77 102.72 L674.10 103.06 L674.44 103.41 L674.78 103.76 L675.11 104.10 L675.45 104.45 L675.79 104.79 L676.12 105.13 L676.46 105.46 L676.80 105.78 L677.13 106.08 L677.47 106.38 L677.74 106.60 L678.01 106.81 L678.28 107.02 L678.55 107.23 L678.82 107.43 L679.09 107.63 L679.35 107.82 L679.62 108.01 L679.89 108.21 L680.16 108.40 L680.43 108.59 L680.70 108.78 L680.97 108.98 L681.24 109.18 L681.51 109.38 L681.78 109.59 L682.18 109.91 L682.59 110.25 L682.99 110.60 L683.39 110.96 L683.80 111.33 L684.20 111.70 L684.61 112.07 L685.01 112.43 L685.41 112.80 L685.82 113.15 L686.22 113.49 L686.62 113.81 L687.03 114.12 L687.43 114.41 L687.84 114.67 L688.24 114.91 L689.59 115.63 L690.93 116.33 L692.28 116.99 L693.62 117.62 L694.97 118.22 L696.32 118.80 L697.66 119.34 L699.01 119.85 L700.36 120.34 L701.70 120.79 L703.05 121.22 L704.39 121.62 L705.74 121.99 L707.09 122.34 L708.43 122.65 L709.78 122.95 L711.13 123.22 L712.47 123.47 L713.82 123.71 L715.16 123.94 L716.51 124.15 L717.86 124.36 L719.20 124.55 L720.55 124.74 L721.90 124.91 L723.24 125.09 L724.59 125.25 L725.94 125.41 L727.28 125.57 L728.63 125.73 L729.97 125.88 L731.32 126.04 L732.67 126.19 L734.01 126.35 L735.36 126.50 L736.71 126.65 L738.05 126.79 L739.40 126.93 L740.74 127.07 L742.09 127.21 L743.44 127.34 L744.78 127.47 L746.13 127.59 L747.48 127.71 L748.82 127.83 L750.17 127.94 L751.51 128.04 L752.86 128.14 L754.21 128.24 L755.55 128.33 L756.90 128.41 L758.25 128.49 L759.59 128.57 L760.94 128.65 L762.28 128.73 L763.63 128.80 L764.98 128.87 L766.32 128.94 L767.67 129.01 L769.01 129.08 L770.36 129.15 L771.71 129.23 L773.05 129.30 L774.40 129.38" fill="none" stroke="#0b6fd0" stroke-width="1.3" stroke-dasharray="2.4 1.5"/>
<path d="M666.70 171.67 L667.04 171.61 L667.37 171.56 L667.71 171.50 L668.05 171.45 L668.38 171.40 L668.72 171.35 L669.06 171.30 L669.39 171.25 L669.73 171.19 L670.07 171.13 L670.40 171.07 L670.74 171.01 L671.08 170.94 L671.41 170.86 L671.75 170.77 L672.09 170.68 L672.42 170.57 L672.76 170.43 L673.09 170.27 L673.43 170.08 L673.77 169.88 L674.10 169.66 L674.44 169.42 L674.78 169.18 L675.11 168.92 L675.45 168.66 L675.79 168.39 L676.12 168.13 L676.46 167.86 L676.80 167.60 L677.13 167.34 L677.47 167.10 L677.74 166.90 L678.01 166.71 L678.28 166.51 L678.55 166.31 L678.82 166.11 L679.09 165.91 L679.35 165.70 L679.62 165.50 L679.89 165.29 L680.16 165.08 L680.43 164.86 L680.70 164.65 L680.97 164.43 L681.24 164.21 L681.51 163.98 L681.78 163.76 L682.18 163.40 L682.59 163.02 L682.99 162.63 L683.39 162.22 L683.80 161.80 L684.20 161.38 L684.61 160.95 L685.01 160.52 L685.41 160.10 L685.82 159.69 L686.22 159.28 L686.62 158.90 L687.03 158.53 L687.43 158.18 L687.84 157.86 L688.24 157.57 L689.59 156.68 L690.93 155.82 L692.28 154.99 L693.62 154.19 L694.97 153.43 L696.32 152.70 L697.66 152.01 L699.01 151.35 L700.36 150.72 L701.70 150.13 L703.05 149.57 L704.39 149.05 L705.74 148.56 L707.09 148.11 L708.43 147.69 L709.78 147.31 L711.13 146.95 L712.47 146.62 L713.82 146.30 L715.16 145.99 L716.51 145.71 L717.86 145.43 L719.20 145.17 L720.55 144.92 L721.90 144.69 L723.24 144.46 L724.59 144.24 L725.94 144.02 L727.28 143.82 L728.63 143.62 L729.97 143.42 L731.32 143.23 L732.67 143.04 L734.01 142.84 L735.36 142.65 L736.71 142.47 L738.05 142.29 L739.40 142.11 L740.74 141.93 L742.09 141.77 L743.44 141.61 L744.78 141.45 L746.13 141.31 L747.48 141.18 L748.82 141.05 L750.17 140.94 L751.51 140.84 L752.86 140.75 L754.21 140.68 L755.55 140.61 L756.90 140.54 L758.25 140.48 L759.59 140.42 L760.94 140.37 L762.28 140.32 L763.63 140.27 L764.98 140.22 L766.32 140.18 L767.67 140.13 L769.01 140.09 L770.36 140.04 L771.71 139.99 L773.05 139.94 L774.40 139.89" fill="none" stroke="#ac2e2e" stroke-width="1.3" stroke-dasharray="2.4 1.5"/>
<circle cx="666.70" cy="97.47" r="2.65" fill="#0b6fd0"/>
<circle cx="672.09" cy="101.18" r="2.65" fill="#0b6fd0"/>
<circle cx="677.47" cy="106.38" r="2.65" fill="#0b6fd0"/>
<circle cx="681.78" cy="109.59" r="2.65" fill="#0b6fd0"/>
<circle cx="688.24" cy="114.91" r="2.65" fill="#0b6fd0"/>
<circle cx="709.78" cy="122.95" r="2.65" fill="#0b6fd0"/>
<circle cx="731.32" cy="126.04" r="2.65" fill="#0b6fd0"/>
<circle cx="752.86" cy="128.14" r="2.65" fill="#0b6fd0"/>
<circle cx="774.40" cy="129.38" r="2.65" fill="#0b6fd0"/>
<rect x="664.25" y="169.22" width="4.90" height="4.90" fill="#c40000"/>
<rect x="669.63" y="168.23" width="4.90" height="4.90" fill="#c40000"/>
<rect x="675.02" y="164.65" width="4.90" height="4.90" fill="#c40000"/>
<rect x="679.33" y="161.31" width="4.90" height="4.90" fill="#c40000"/>
<rect x="685.79" y="155.12" width="4.90" height="4.90" fill="#c40000"/>
<rect x="707.33" y="144.86" width="4.90" height="4.90" fill="#c40000"/>
<rect x="728.87" y="140.78" width="4.90" height="4.90" fill="#c40000"/>
<rect x="750.41" y="138.30" width="4.90" height="4.90" fill="#c40000"/>
<rect x="771.95" y="137.44" width="4.90" height="4.90" fill="#c40000"/>
<text x="662.50" y="176.60" font-size="14.60" text-anchor="end" fill="#111">0.2</text>
<text x="662.50" y="151.87" font-size="14.60" text-anchor="end" fill="#111">0.4</text>
<text x="662.50" y="127.13" font-size="14.60" text-anchor="end" fill="#111">0.6</text>
<text x="662.50" y="102.40" font-size="14.60" text-anchor="end" fill="#111">0.8</text>
<text x="667.50" y="186.70" font-size="14.60" text-anchor="middle" fill="#111">0</text>
<text x="720.50" y="186.70" font-size="14.60" text-anchor="middle" fill="#111">500</text>
<text x="770.10" y="186.70" font-size="14.60" text-anchor="middle" fill="#111">1000</text>
<text x="606.00" y="139.50" font-size="18" font-style="italic" fill="#111">ω<tspan font-style="normal" font-size="20.5" dx="0.2" dy="1.8">/</tspan><tspan dx="0.6" dy="-1.8">γ</tspan></text>
<text x="500.50" y="53.35" font-size="16.30" text-anchor="end" fill="#111">1.5</text>
<text x="500.50" y="81.30" font-size="16.30" text-anchor="end" fill="#111">1.2</text>
<text x="500.50" y="109.25" font-size="16.30" text-anchor="end" fill="#111">0.9</text>
<text x="500.50" y="137.20" font-size="16.30" text-anchor="end" fill="#111">0.6</text>
<text x="500.50" y="165.15" font-size="16.30" text-anchor="end" fill="#111">0.3</text>
<text x="500.50" y="193.10" font-size="16.30" text-anchor="end" fill="#111">0</text>
<text x="500.50" y="221.05" font-size="16.30" text-anchor="end" fill="#111"><tspan dy="1.6">−</tspan><tspan dy="-1.6" dx="0.4">0.3</tspan></text>
<text x="500.50" y="249.00" font-size="16.30" text-anchor="end" fill="#111"><tspan dy="1.6">−</tspan><tspan dy="-1.6" dx="0.4">0.6</tspan></text>
<text x="508.70" y="262.90" font-size="16.30" text-anchor="middle" fill="#111">0</text>
<text x="564.22" y="262.90" font-size="16.30" text-anchor="middle" fill="#111">200</text>
<text x="619.74" y="262.90" font-size="16.30" text-anchor="middle" fill="#111">400</text>
<text x="675.26" y="262.90" font-size="16.30" text-anchor="middle" fill="#111">600</text>
<text x="730.78" y="262.90" font-size="16.30" text-anchor="middle" fill="#111">800</text>
<text x="786.30" y="262.90" font-size="16.30" text-anchor="middle" fill="#111">1000</text>
<line x1="131.10" y1="335.02" x2="135.60" y2="335.02" stroke="#333" stroke-width="1.1"/>
<line x1="131.10" y1="373.44" x2="135.60" y2="373.44" stroke="#333" stroke-width="1.1"/>
<line x1="131.10" y1="411.86" x2="135.60" y2="411.86" stroke="#333" stroke-width="1.1"/>
<line x1="131.10" y1="450.28" x2="135.60" y2="450.28" stroke="#333" stroke-width="1.1"/>
<line x1="142.05" y1="488.70" x2="142.05" y2="485.40" stroke="#333" stroke-width="1.0"/>
<line x1="153.00" y1="488.70" x2="153.00" y2="485.40" stroke="#333" stroke-width="1.0"/>
<line x1="163.96" y1="488.70" x2="163.96" y2="485.40" stroke="#333" stroke-width="1.0"/>
<line x1="174.91" y1="488.70" x2="174.91" y2="485.40" stroke="#333" stroke-width="1.0"/>
<line x1="196.81" y1="488.70" x2="196.81" y2="485.40" stroke="#333" stroke-width="1.0"/>
<line x1="207.76" y1="488.70" x2="207.76" y2="485.40" stroke="#333" stroke-width="1.0"/>
<line x1="218.72" y1="488.70" x2="218.72" y2="485.40" stroke="#333" stroke-width="1.0"/>
<line x1="229.67" y1="488.70" x2="229.67" y2="485.40" stroke="#333" stroke-width="1.0"/>
<line x1="251.57" y1="488.70" x2="251.57" y2="485.40" stroke="#333" stroke-width="1.0"/>
<line x1="262.52" y1="488.70" x2="262.52" y2="485.40" stroke="#333" stroke-width="1.0"/>
<line x1="273.48" y1="488.70" x2="273.48" y2="485.40" stroke="#333" stroke-width="1.0"/>
<line x1="284.43" y1="488.70" x2="284.43" y2="485.40" stroke="#333" stroke-width="1.0"/>
<line x1="306.33" y1="488.70" x2="306.33" y2="485.40" stroke="#333" stroke-width="1.0"/>
<line x1="317.28" y1="488.70" x2="317.28" y2="485.40" stroke="#333" stroke-width="1.0"/>
<line x1="328.24" y1="488.70" x2="328.24" y2="485.40" stroke="#333" stroke-width="1.0"/>
<line x1="339.19" y1="488.70" x2="339.19" y2="485.40" stroke="#333" stroke-width="1.0"/>
<line x1="361.09" y1="488.70" x2="361.09" y2="485.40" stroke="#333" stroke-width="1.0"/>
<line x1="372.04" y1="488.70" x2="372.04" y2="485.40" stroke="#333" stroke-width="1.0"/>
<line x1="383.00" y1="488.70" x2="383.00" y2="485.40" stroke="#333" stroke-width="1.0"/>
<line x1="393.95" y1="488.70" x2="393.95" y2="485.40" stroke="#333" stroke-width="1.0"/>
<line x1="185.86" y1="488.70" x2="185.86" y2="484.50" stroke="#222" stroke-width="1.1"/>
<line x1="240.62" y1="488.70" x2="240.62" y2="484.50" stroke="#222" stroke-width="1.1"/>
<line x1="295.38" y1="488.70" x2="295.38" y2="484.50" stroke="#222" stroke-width="1.1"/>
<line x1="350.14" y1="488.70" x2="350.14" y2="484.50" stroke="#222" stroke-width="1.1"/>
<line x1="131.10" y1="296.60" x2="405.70" y2="296.60" stroke="#333" stroke-width="1.30"/>
<line x1="404.90" y1="296.60" x2="404.90" y2="488.70" stroke="#666" stroke-width="1.60"/>
<line x1="131.10" y1="488.70" x2="404.90" y2="488.70" stroke="#111" stroke-width="1.60"/>
<line x1="131.10" y1="295.95" x2="131.10" y2="489.50" stroke="#111" stroke-width="1.30"/>
<line x1="131.10" y1="412.16" x2="403.90" y2="412.16" stroke="#000" stroke-width="1.6" stroke-dasharray="7.31 5.39 1.5 5.39"/>
<path d="M133.84 412.24 L135.38 412.27 L136.92 412.29 L138.46 412.31 L140.00 412.34 L141.54 412.36 L143.08 412.38 L144.62 412.40 L146.16 412.43 L147.70 412.45 L149.24 412.47 L150.78 412.50 L152.32 412.52 L153.86 412.55 L155.40 412.57 L156.94 412.60 L158.48 412.63 L160.43 412.67 L162.38 412.70 L164.33 412.74 L166.28 412.78 L168.23 412.82 L170.18 412.86 L172.14 412.90 L174.09 412.95 L176.04 412.99 L177.99 413.04 L179.94 413.09 L181.89 413.15 L183.84 413.20 L185.79 413.26 L187.74 413.33 L189.69 413.40 L192.89 413.53 L196.09 413.71 L199.29 413.91 L202.49 414.15 L205.69 414.40 L208.89 414.68 L212.09 414.97 L215.29 415.27 L218.49 415.58 L221.69 415.89 L224.89 416.19 L228.09 416.48 L231.29 416.76 L234.49 417.02 L237.69 417.26 L240.89 417.47 L244.09 417.66 L247.29 417.84 L250.49 418.02 L253.69 418.19 L256.89 418.35 L260.09 418.51 L263.29 418.66 L266.49 418.81 L269.69 418.96 L272.89 419.11 L276.09 419.25 L279.29 419.40 L282.49 419.55 L285.69 419.70 L288.89 419.85 L292.09 420.01 L295.31 420.17 L298.53 420.33 L301.75 420.49 L304.96 420.66 L308.18 420.82 L311.40 420.99 L314.61 421.16 L317.83 421.32 L321.05 421.48 L324.27 421.65 L327.48 421.80 L330.70 421.96 L333.92 422.11 L337.13 422.26 L340.35 422.40 L343.57 422.54 L347.40 422.70 L351.24 422.85 L355.07 423.00 L358.90 423.15 L362.73 423.29 L366.57 423.43 L370.40 423.56 L374.23 423.70 L378.07 423.83 L381.90 423.96 L385.73 424.10 L389.57 424.23 L393.40 424.36 L397.23 424.50 L401.07 424.63 L404.90 424.77" fill="none" stroke="#88cc48" stroke-width="2.00" stroke-dasharray="3.0 4.0" stroke-linecap="round"/>
<path d="M133.84 411.86 L135.38 412.00 L136.92 412.14 L138.46 412.27 L140.00 412.39 L141.54 412.52 L143.08 412.64 L144.62 412.77 L146.16 412.90 L147.70 413.03 L149.24 413.16 L150.78 413.31 L152.32 413.46 L153.86 413.62 L155.40 413.79 L156.94 413.97 L158.48 414.17 L160.65 414.48 L162.83 414.84 L165.00 415.24 L167.17 415.69 L169.35 416.17 L171.52 416.68 L173.69 417.22 L175.87 417.78 L178.04 418.36 L180.21 418.95 L182.39 419.55 L184.56 420.16 L186.73 420.76 L188.91 421.37 L191.08 421.96 L193.25 422.54 L195.44 423.12 L197.63 423.72 L199.82 424.32 L202.01 424.94 L204.20 425.56 L206.39 426.19 L208.59 426.83 L210.78 427.47 L212.97 428.12 L215.16 428.77 L217.35 429.43 L219.54 430.09 L221.73 430.76 L223.92 431.42 L226.11 432.09 L228.30 432.76 L230.49 433.44 L232.68 434.14 L234.87 434.86 L237.06 435.59 L239.25 436.34 L241.44 437.08 L243.63 437.83 L245.82 438.58 L248.01 439.32 L250.20 440.05 L252.39 440.76 L254.58 441.46 L256.77 442.13 L258.96 442.78 L261.15 443.40 L263.35 443.98 L265.31 444.48 L267.28 444.96 L269.25 445.43 L271.22 445.89 L273.19 446.33 L275.15 446.77 L277.12 447.19 L279.09 447.61 L281.06 448.02 L283.02 448.42 L284.99 448.82 L286.96 449.22 L288.93 449.62 L290.90 450.02 L292.86 450.42 L294.83 450.82 L297.88 451.44 L300.92 452.05 L303.97 452.65 L307.02 453.24 L310.06 453.83 L313.11 454.42 L316.15 455.00 L319.20 455.57 L322.25 456.15 L325.29 456.72 L328.34 457.29 L331.38 457.87 L334.43 458.44 L337.48 459.02 L340.52 459.60 L343.57 460.19 L347.40 460.94 L351.24 461.68 L355.07 462.43 L358.90 463.18 L362.73 463.92 L366.57 464.67 L370.40 465.42 L374.23 466.17 L378.07 466.92 L381.90 467.68 L385.73 468.43 L389.57 469.18 L393.40 469.93 L397.23 470.68 L401.07 471.43 L404.90 472.18" fill="none" stroke="#0b6fd0" stroke-width="2.00" stroke-dasharray="3.0 4.0" stroke-linecap="round"/>
<path d="M133.84 411.86 L135.38 411.69 L136.92 411.53 L138.46 411.37 L140.00 411.21 L141.54 411.06 L143.08 410.90 L144.62 410.75 L146.16 410.59 L147.70 410.43 L149.24 410.26 L150.78 410.10 L152.32 409.92 L153.86 409.75 L155.40 409.56 L156.94 409.37 L158.48 409.17 L161.05 408.82 L163.61 408.46 L166.18 408.08 L168.75 407.68 L171.31 407.27 L173.88 406.85 L176.45 406.41 L179.01 405.96 L181.58 405.49 L184.15 405.01 L186.72 404.52 L189.28 404.01 L191.85 403.50 L194.42 402.97 L196.98 402.42 L199.55 401.87 L202.12 401.30 L204.68 400.70 L207.25 400.09 L209.82 399.45 L212.38 398.78 L214.95 398.10 L217.52 397.40 L220.08 396.68 L222.65 395.94 L225.22 395.18 L227.79 394.41 L230.35 393.63 L232.92 392.82 L235.49 392.01 L238.05 391.18 L240.62 390.34 L243.77 389.29 L246.92 388.19 L250.07 387.06 L253.21 385.89 L256.36 384.69 L259.51 383.46 L262.66 382.21 L265.81 380.92 L268.96 379.62 L272.11 378.29 L275.26 376.95 L278.40 375.59 L281.55 374.22 L284.70 372.84 L287.85 371.45 L291.00 370.06 L292.81 369.24 L294.63 368.40 L296.44 367.54 L298.25 366.67 L300.07 365.78 L301.88 364.88 L303.70 363.97 L305.51 363.06 L307.32 362.14 L309.14 361.23 L310.95 360.33 L312.77 359.43 L314.58 358.55 L316.39 357.68 L318.21 356.83 L320.02 356.00 L322.52 354.87 L325.02 353.74 L327.52 352.62 L330.02 351.50 L332.51 350.38 L335.01 349.28 L337.51 348.19 L340.01 347.11 L342.51 346.05 L345.01 345.00 L347.50 343.98 L350.00 342.98 L352.50 342.00 L355.00 341.05 L357.50 340.13 L360.00 339.25 L362.50 338.38 L364.99 337.54 L367.49 336.71 L369.99 335.90 L372.49 335.11 L374.99 334.33 L377.49 333.57 L379.98 332.82 L382.48 332.09 L384.98 331.37 L387.48 330.66 L389.98 329.97 L392.48 329.29 L394.97 328.63 L397.47 327.98 L399.97 327.34 L400.28 327.26 L400.59 327.18 L400.90 327.11 L401.20 327.03 L401.51 326.96 L401.82 326.89 L402.13 326.82 L402.44 326.75 L402.74 326.68 L403.05 326.61 L403.36 326.54 L403.67 326.47 L403.98 326.40 L404.28 326.33 L404.59 326.26 L404.90 326.18" fill="none" stroke="#ac2e2e" stroke-width="2.00" stroke-dasharray="3.0 4.0" stroke-linecap="round"/>
<rect x="129.84" y="407.09" width="8.00" height="8.00" fill="#c40000"/>
<rect x="154.48" y="404.94" width="8.00" height="8.00" fill="#c40000"/>
<rect x="195.55" y="397.33" width="8.00" height="8.00" fill="#c40000"/>
<rect x="291.38" y="358.91" width="8.00" height="8.00" fill="#c40000"/>
<rect x="400.90" y="318.11" width="8.00" height="8.00" fill="#c40000"/>
<circle cx="133.84" cy="412.63" r="4.30" fill="#0b6ec8"/>
<circle cx="158.48" cy="416.09" r="4.30" fill="#0b6ec8"/>
<circle cx="199.55" cy="423.69" r="4.30" fill="#0b6ec8"/>
<circle cx="295.38" cy="450.59" r="4.30" fill="#0b6ec8"/>
<circle cx="404.90" cy="474.18" r="4.30" fill="#0b6ec8"/>
<path d="M133.84 407.53 L138.68 417.73 L128.99 417.73 Z" fill="#7ea446"/>
<path d="M158.48 407.53 L163.32 417.73 L153.63 417.73 Z" fill="#7ea446"/>
<path d="M199.55 409.45 L204.39 419.65 L194.70 419.65 Z" fill="#7ea446"/>
<path d="M295.38 414.44 L300.23 424.64 L290.53 424.64 Z" fill="#7ea446"/>
<path d="M404.90 420.13 L409.75 430.33 L400.05 430.33 Z" fill="#7ea446"/>
<rect x="179.50" y="297.50" width="110.00" height="92.50" fill="#fff"/>
<rect x="289.00" y="372.00" width="11.00" height="18.00" fill="#fff"/>
<line x1="186.40" y1="350.50" x2="189.60" y2="350.50" stroke="#444" stroke-width="1"/>
<line x1="186.40" y1="326.70" x2="189.60" y2="326.70" stroke="#444" stroke-width="1"/>
<line x1="196.71" y1="374.30" x2="196.71" y2="371.50" stroke="#555" stroke-width="1"/>
<line x1="207.02" y1="374.30" x2="207.02" y2="371.50" stroke="#555" stroke-width="1"/>
<line x1="217.33" y1="374.30" x2="217.33" y2="371.50" stroke="#555" stroke-width="1"/>
<line x1="227.64" y1="374.30" x2="227.64" y2="371.50" stroke="#555" stroke-width="1"/>
<line x1="237.95" y1="374.30" x2="237.95" y2="371.50" stroke="#555" stroke-width="1"/>
<line x1="248.26" y1="374.30" x2="248.26" y2="371.50" stroke="#555" stroke-width="1"/>
<line x1="258.57" y1="374.30" x2="258.57" y2="371.50" stroke="#555" stroke-width="1"/>
<line x1="268.88" y1="374.30" x2="268.88" y2="371.50" stroke="#555" stroke-width="1"/>
<line x1="279.19" y1="374.30" x2="279.19" y2="371.50" stroke="#555" stroke-width="1"/>
<line x1="186.40" y1="302.90" x2="289.50" y2="302.90" stroke="#888" stroke-width="1.40"/>
<line x1="289.50" y1="302.90" x2="289.50" y2="374.30" stroke="#777" stroke-width="1.20"/>
<line x1="186.40" y1="374.30" x2="289.50" y2="374.30" stroke="#444" stroke-width="1.50"/>
<line x1="186.40" y1="302.90" x2="186.40" y2="374.30" stroke="#555" stroke-width="1.20"/>
<path d="M187.43 312.90 L188.01 312.94 L188.59 312.98 L189.17 313.03 L189.75 313.07 L190.33 313.12 L190.91 313.16 L191.49 313.20 L192.07 313.25 L192.65 313.29 L193.23 313.33 L193.81 313.38 L194.39 313.42 L194.97 313.47 L195.55 313.52 L196.13 313.56 L196.71 313.61 L197.68 313.69 L198.64 313.77 L199.61 313.85 L200.58 313.94 L201.54 314.02 L202.51 314.10 L203.48 314.19 L204.44 314.28 L205.41 314.36 L206.38 314.45 L207.34 314.55 L208.31 314.64 L209.28 314.74 L210.24 314.83 L211.21 314.93 L212.18 315.04 L214.43 315.29 L216.69 315.56 L218.94 315.85 L221.20 316.16 L223.45 316.48 L225.71 316.80 L227.96 317.13 L230.22 317.47 L232.47 317.81 L234.73 318.15 L236.98 318.48 L239.24 318.81 L241.49 319.14 L243.75 319.45 L246.00 319.75 L248.26 320.04 L250.84 320.35 L253.42 320.65 L255.99 320.95 L258.57 321.24 L261.15 321.53 L263.73 321.81 L266.30 322.09 L268.88 322.36 L271.46 322.64 L274.03 322.91 L276.61 323.18 L279.19 323.45 L281.77 323.73 L284.35 324.00 L286.92 324.28 L289.50 324.56" fill="none" stroke="#0b6fd0" stroke-width="1.3" stroke-dasharray="2.4 1.5"/>
<path d="M187.43 364.54 L188.01 364.51 L188.59 364.48 L189.17 364.46 L189.75 364.43 L190.33 364.40 L190.91 364.37 L191.49 364.35 L192.07 364.32 L192.65 364.29 L193.23 364.26 L193.81 364.23 L194.39 364.20 L194.97 364.17 L195.55 364.14 L196.13 364.10 L196.71 364.07 L197.68 364.00 L198.64 363.93 L199.61 363.86 L200.58 363.78 L201.54 363.69 L202.51 363.60 L203.48 363.51 L204.44 363.42 L205.41 363.33 L206.38 363.23 L207.34 363.13 L208.31 363.03 L209.28 362.93 L210.24 362.83 L211.21 362.74 L212.18 362.64 L214.43 362.41 L216.69 362.18 L218.94 361.94 L221.20 361.70 L223.45 361.45 L225.71 361.21 L227.96 360.95 L230.22 360.70 L232.47 360.44 L234.73 360.18 L236.98 359.92 L239.24 359.66 L241.49 359.39 L243.75 359.13 L246.00 358.86 L248.26 358.59 L250.84 358.28 L253.42 357.97 L255.99 357.65 L258.57 357.33 L261.15 357.00 L263.73 356.68 L266.30 356.35 L268.88 356.02 L271.46 355.68 L274.03 355.35 L276.61 355.01 L279.19 354.68 L281.77 354.35 L284.35 354.02 L286.92 353.68 L289.50 353.36" fill="none" stroke="#ac2e2e" stroke-width="1.3" stroke-dasharray="2.4 1.5"/>
<circle cx="187.43" cy="312.90" r="2.65" fill="#0b6fd0"/>
<circle cx="196.71" cy="313.61" r="2.65" fill="#0b6fd0"/>
<circle cx="212.18" cy="315.04" r="2.65" fill="#0b6fd0"/>
<circle cx="248.26" cy="320.04" r="2.65" fill="#0b6fd0"/>
<circle cx="289.50" cy="324.56" r="2.65" fill="#0b6fd0"/>
<rect x="184.98" y="362.09" width="4.90" height="4.90" fill="#c40000"/>
<rect x="194.26" y="361.62" width="4.90" height="4.90" fill="#c40000"/>
<rect x="209.73" y="360.19" width="4.90" height="4.90" fill="#c40000"/>
<rect x="245.81" y="356.14" width="4.90" height="4.90" fill="#c40000"/>
<rect x="287.05" y="350.91" width="4.90" height="4.90" fill="#c40000"/>
<text x="184.10" y="380.60" font-size="14.60" text-anchor="end" fill="#111">0.35</text>
<text x="184.10" y="356.80" font-size="14.60" text-anchor="end" fill="#111">0.45</text>
<text x="184.10" y="333.00" font-size="14.60" text-anchor="end" fill="#111">0.55</text>
<text x="184.10" y="309.20" font-size="14.60" text-anchor="end" fill="#111">0.65</text>
<text x="185.40" y="388.00" font-size="14.60" text-anchor="middle" fill="#111">0</text>
<text x="237.20" y="388.00" font-size="14.60" text-anchor="middle" fill="#111">50</text>
<text x="289.40" y="388.00" font-size="14.60" text-anchor="middle" fill="#111">100</text>
<text x="134.00" y="346.00" font-size="18" font-style="italic" fill="#111">ω<tspan font-style="normal" font-size="20.5" dx="0.2" dy="1.8">/</tspan><tspan dx="0.6" dy="-1.8">γ</tspan></text>
<text x="125.30" y="301.40" font-size="16.30" text-anchor="end" fill="#111">0.15</text>
<text x="125.30" y="339.82" font-size="16.30" text-anchor="end" fill="#111">0.10</text>
<text x="125.30" y="378.24" font-size="16.30" text-anchor="end" fill="#111">0.05</text>
<text x="125.30" y="416.66" font-size="16.30" text-anchor="end" fill="#111">0</text>
<text x="125.30" y="455.08" font-size="16.30" text-anchor="end" fill="#111"><tspan dy="1.6">−</tspan><tspan dy="-1.6" dx="0.4">0.05</tspan></text>
<text x="125.30" y="493.50" font-size="16.30" text-anchor="end" fill="#111"><tspan dy="1.6">−</tspan><tspan dy="-1.6" dx="0.4">0.10</tspan></text>
<text x="131.90" y="506.90" font-size="16.30" text-anchor="middle" fill="#111">0</text>
<text x="186.66" y="506.90" font-size="16.30" text-anchor="middle" fill="#111">20</text>
<text x="241.42" y="506.90" font-size="16.30" text-anchor="middle" fill="#111">40</text>
<text x="296.18" y="506.90" font-size="16.30" text-anchor="middle" fill="#111">60</text>
<text x="350.94" y="506.90" font-size="16.30" text-anchor="middle" fill="#111">80</text>
<text x="405.70" y="506.90" font-size="16.30" text-anchor="middle" fill="#111">100</text>
<line x1="508.00" y1="318.36" x2="512.50" y2="318.36" stroke="#333" stroke-width="1.1"/>
<line x1="508.00" y1="361.07" x2="512.50" y2="361.07" stroke="#333" stroke-width="1.1"/>
<line x1="508.00" y1="403.78" x2="512.50" y2="403.78" stroke="#333" stroke-width="1.1"/>
<line x1="508.00" y1="446.49" x2="512.50" y2="446.49" stroke="#333" stroke-width="1.1"/>
<line x1="518.94" y1="489.20" x2="518.94" y2="485.90" stroke="#333" stroke-width="1.0"/>
<line x1="529.88" y1="489.20" x2="529.88" y2="485.90" stroke="#333" stroke-width="1.0"/>
<line x1="540.82" y1="489.20" x2="540.82" y2="485.90" stroke="#333" stroke-width="1.0"/>
<line x1="551.76" y1="489.20" x2="551.76" y2="485.90" stroke="#333" stroke-width="1.0"/>
<line x1="573.64" y1="489.20" x2="573.64" y2="485.90" stroke="#333" stroke-width="1.0"/>
<line x1="584.58" y1="489.20" x2="584.58" y2="485.90" stroke="#333" stroke-width="1.0"/>
<line x1="595.52" y1="489.20" x2="595.52" y2="485.90" stroke="#333" stroke-width="1.0"/>
<line x1="606.46" y1="489.20" x2="606.46" y2="485.90" stroke="#333" stroke-width="1.0"/>
<line x1="628.34" y1="489.20" x2="628.34" y2="485.90" stroke="#333" stroke-width="1.0"/>
<line x1="639.28" y1="489.20" x2="639.28" y2="485.90" stroke="#333" stroke-width="1.0"/>
<line x1="650.22" y1="489.20" x2="650.22" y2="485.90" stroke="#333" stroke-width="1.0"/>
<line x1="661.16" y1="489.20" x2="661.16" y2="485.90" stroke="#333" stroke-width="1.0"/>
<line x1="683.04" y1="489.20" x2="683.04" y2="485.90" stroke="#333" stroke-width="1.0"/>
<line x1="693.98" y1="489.20" x2="693.98" y2="485.90" stroke="#333" stroke-width="1.0"/>
<line x1="704.92" y1="489.20" x2="704.92" y2="485.90" stroke="#333" stroke-width="1.0"/>
<line x1="715.86" y1="489.20" x2="715.86" y2="485.90" stroke="#333" stroke-width="1.0"/>
<line x1="737.74" y1="489.20" x2="737.74" y2="485.90" stroke="#333" stroke-width="1.0"/>
<line x1="748.68" y1="489.20" x2="748.68" y2="485.90" stroke="#333" stroke-width="1.0"/>
<line x1="759.62" y1="489.20" x2="759.62" y2="485.90" stroke="#333" stroke-width="1.0"/>
<line x1="770.56" y1="489.20" x2="770.56" y2="485.90" stroke="#333" stroke-width="1.0"/>
<line x1="562.70" y1="489.20" x2="562.70" y2="485.00" stroke="#222" stroke-width="1.1"/>
<line x1="617.40" y1="489.20" x2="617.40" y2="485.00" stroke="#222" stroke-width="1.1"/>
<line x1="672.10" y1="489.20" x2="672.10" y2="485.00" stroke="#222" stroke-width="1.1"/>
<line x1="726.80" y1="489.20" x2="726.80" y2="485.00" stroke="#222" stroke-width="1.1"/>
<line x1="508.00" y1="297.00" x2="782.30" y2="297.00" stroke="#333" stroke-width="1.30"/>
<line x1="781.50" y1="297.00" x2="781.50" y2="489.20" stroke="#333" stroke-width="1.60"/>
<line x1="508.00" y1="489.20" x2="781.50" y2="489.20" stroke="#111" stroke-width="1.60"/>
<line x1="508.00" y1="296.35" x2="508.00" y2="490.00" stroke="#555" stroke-width="1.30"/>
<line x1="508.00" y1="425.43" x2="780.50" y2="425.43" stroke="#000" stroke-width="1.6" stroke-dasharray="7.31 5.39 1.5 5.39"/>
<path d="M510.74 425.13 L512.27 425.21 L513.81 425.29 L515.35 425.37 L516.89 425.45 L518.43 425.53 L519.97 425.61 L521.50 425.69 L523.04 425.77 L524.58 425.85 L526.12 425.92 L527.66 426.00 L529.20 426.09 L530.73 426.17 L532.27 426.25 L533.81 426.33 L535.35 426.41 L537.52 426.53 L539.69 426.64 L541.86 426.75 L544.03 426.85 L546.20 426.96 L548.38 427.06 L550.55 427.16 L552.72 427.27 L554.89 427.39 L557.06 427.51 L559.23 427.63 L561.40 427.77 L563.57 427.91 L565.74 428.07 L567.91 428.24 L570.08 428.42 L573.28 428.76 L576.48 429.19 L579.67 429.71 L582.87 430.31 L586.07 430.98 L589.26 431.70 L592.46 432.46 L595.66 433.25 L598.85 434.07 L602.05 434.90 L605.25 435.72 L608.44 436.54 L611.64 437.33 L614.84 438.08 L618.03 438.79 L621.23 439.44 L624.43 440.05 L627.62 440.66 L630.82 441.24 L634.02 441.82 L637.21 442.40 L640.41 442.96 L643.60 443.52 L646.80 444.07 L650.00 444.62 L653.19 445.16 L656.39 445.71 L659.59 446.25 L662.78 446.80 L665.98 447.35 L669.18 447.90 L672.37 448.45 L675.57 449.01 L678.77 449.57 L681.96 450.13 L685.16 450.69 L688.36 451.25 L691.55 451.80 L694.75 452.36 L697.95 452.91 L701.14 453.47 L704.34 454.02 L707.54 454.58 L710.73 455.13 L713.93 455.68 L717.12 456.24 L720.32 456.79 L723.52 457.34 L727.14 457.96 L730.77 458.58 L734.39 459.20 L738.01 459.82 L741.64 460.44 L745.26 461.05 L748.89 461.67 L752.51 462.28 L756.13 462.90 L759.76 463.51 L763.38 464.13 L767.00 464.74 L770.63 465.36 L774.25 465.97 L777.88 466.59 L781.50 467.20" fill="none" stroke="#88cc48" stroke-width="2.00" stroke-dasharray="3.0 4.0" stroke-linecap="round"/>
<path d="M510.74 425.56 L512.27 425.69 L513.81 425.82 L515.35 425.95 L516.89 426.07 L518.43 426.20 L519.97 426.32 L521.50 426.45 L523.04 426.57 L524.58 426.70 L526.12 426.83 L527.66 426.96 L529.20 427.10 L530.73 427.24 L532.27 427.39 L533.81 427.54 L535.35 427.70 L537.52 427.93 L539.69 428.17 L541.86 428.41 L544.03 428.67 L546.20 428.93 L548.38 429.20 L550.55 429.49 L552.72 429.78 L554.89 430.08 L557.06 430.39 L559.23 430.71 L561.40 431.04 L563.57 431.38 L565.74 431.74 L567.91 432.10 L570.08 432.48 L573.28 433.08 L576.48 433.76 L579.67 434.50 L582.87 435.29 L586.07 436.13 L589.26 437.00 L592.46 437.91 L595.66 438.83 L598.85 439.76 L602.05 440.69 L605.25 441.61 L608.44 442.52 L611.64 443.40 L614.84 444.25 L618.03 445.05 L621.23 445.81 L624.43 446.52 L627.62 447.21 L630.82 447.89 L634.02 448.56 L637.21 449.21 L640.41 449.85 L643.60 450.48 L646.80 451.11 L650.00 451.72 L653.19 452.34 L656.39 452.95 L659.59 453.56 L662.78 454.17 L665.98 454.78 L669.18 455.39 L672.37 456.01 L675.57 456.64 L678.77 457.26 L681.96 457.88 L685.16 458.50 L688.36 459.12 L691.55 459.74 L694.75 460.36 L697.95 460.97 L701.14 461.58 L704.34 462.19 L707.54 462.80 L710.73 463.40 L713.93 464.01 L717.12 464.60 L720.32 465.20 L723.52 465.79 L727.14 466.46 L730.77 467.13 L734.39 467.78 L738.01 468.44 L741.64 469.09 L745.26 469.74 L748.89 470.38 L752.51 471.03 L756.13 471.67 L759.76 472.31 L763.38 472.95 L767.00 473.59 L770.63 474.24 L774.25 474.88 L777.88 475.53 L781.50 476.17" fill="none" stroke="#0b6fd0" stroke-width="2.00" stroke-dasharray="3.0 4.0" stroke-linecap="round"/>
<path d="M510.74 425.13 L512.27 425.08 L513.81 425.03 L515.35 424.98 L516.89 424.93 L518.43 424.88 L519.97 424.84 L521.50 424.79 L523.04 424.74 L524.58 424.69 L526.12 424.64 L527.66 424.59 L529.20 424.53 L530.73 424.47 L532.27 424.41 L533.81 424.35 L535.35 424.28 L537.91 424.16 L540.48 424.04 L543.04 423.91 L545.61 423.77 L548.17 423.62 L550.73 423.47 L553.30 423.31 L555.86 423.14 L558.43 422.95 L560.99 422.76 L563.55 422.55 L566.12 422.33 L568.68 422.09 L571.25 421.84 L573.81 421.57 L576.38 421.29 L578.12 421.07 L579.86 420.81 L581.61 420.51 L583.35 420.18 L585.09 419.82 L586.84 419.43 L588.58 419.02 L590.32 418.59 L592.07 418.14 L593.81 417.69 L595.55 417.22 L597.30 416.75 L599.04 416.28 L600.78 415.81 L602.53 415.34 L604.27 414.88 L605.81 414.48 L607.35 414.07 L608.89 413.65 L610.43 413.22 L611.96 412.79 L613.50 412.35 L615.04 411.90 L616.58 411.44 L618.12 410.98 L619.66 410.51 L621.19 410.04 L622.73 409.57 L624.27 409.09 L625.81 408.60 L627.35 408.11 L628.89 407.62 L630.41 407.13 L631.93 406.63 L633.45 406.12 L634.97 405.61 L636.49 405.08 L638.02 404.55 L639.54 404.02 L641.06 403.48 L642.58 402.94 L644.10 402.39 L645.62 401.85 L647.14 401.29 L648.66 400.74 L650.19 400.19 L651.71 399.63 L653.23 399.08 L654.15 398.75 L655.07 398.42 L656.00 398.09 L656.92 397.77 L657.84 397.45 L658.77 397.12 L659.69 396.79 L660.61 396.46 L661.54 396.13 L662.46 395.79 L663.38 395.44 L664.31 395.08 L665.23 394.71 L666.15 394.33 L667.07 393.94 L668.00 393.53 L669.37 392.89 L670.73 392.22 L672.10 391.52 L673.47 390.79 L674.84 390.03 L676.20 389.25 L677.57 388.45 L678.94 387.63 L680.31 386.79 L681.67 385.94 L683.04 385.08 L684.41 384.21 L685.77 383.34 L687.14 382.46 L688.51 381.59 L689.88 380.71 L691.40 379.74 L692.92 378.74 L694.44 377.74 L695.96 376.71 L697.48 375.68 L699.01 374.63 L700.53 373.57 L702.05 372.50 L703.57 371.42 L705.09 370.33 L706.61 369.24 L708.13 368.13 L709.65 367.01 L711.18 365.89 L712.70 364.76 L714.22 363.63 L715.76 362.47 L717.30 361.30 L718.83 360.12 L720.37 358.93 L721.91 357.73 L723.45 356.51 L724.99 355.29 L726.53 354.06 L728.06 352.82 L729.60 351.57 L731.14 350.31 L732.68 349.06 L734.22 347.79 L735.76 346.53 L737.30 345.25 L738.83 343.98 L740.36 342.71 L741.88 341.42 L743.40 340.12 L744.92 338.80 L746.44 337.48 L747.96 336.14 L749.48 334.80 L751.00 333.46 L752.53 332.13 L754.05 330.79 L755.57 329.47 L757.09 328.15 L758.61 326.85 L760.13 325.56 L761.65 324.30 L763.18 323.05 L764.32 322.13 L765.47 321.22 L766.61 320.32 L767.76 319.43 L768.90 318.54 L770.05 317.66 L771.19 316.78 L772.34 315.91 L773.48 315.05 L774.63 314.18 L775.77 313.31 L776.92 312.45 L778.06 311.58 L779.21 310.71 L780.35 309.84 L781.50 308.96" fill="none" stroke="#ac2e2e" stroke-width="2.00" stroke-dasharray="3.0 4.0" stroke-linecap="round"/>
<rect x="531.00" y="299.50" width="140.50" height="96.50" fill="#fff"/>
<line x1="555.50" y1="355.40" x2="558.70" y2="355.40" stroke="#444" stroke-width="1"/>
<line x1="555.50" y1="330.40" x2="558.70" y2="330.40" stroke="#444" stroke-width="1"/>
<line x1="566.38" y1="380.40" x2="566.38" y2="377.60" stroke="#555" stroke-width="1"/>
<line x1="577.26" y1="380.40" x2="577.26" y2="377.60" stroke="#555" stroke-width="1"/>
<line x1="588.14" y1="380.40" x2="588.14" y2="377.60" stroke="#555" stroke-width="1"/>
<line x1="599.02" y1="380.40" x2="599.02" y2="377.60" stroke="#555" stroke-width="1"/>
<line x1="609.90" y1="380.40" x2="609.90" y2="377.60" stroke="#555" stroke-width="1"/>
<line x1="620.78" y1="380.40" x2="620.78" y2="377.60" stroke="#555" stroke-width="1"/>
<line x1="631.66" y1="380.40" x2="631.66" y2="377.60" stroke="#555" stroke-width="1"/>
<line x1="642.54" y1="380.40" x2="642.54" y2="377.60" stroke="#555" stroke-width="1"/>
<line x1="653.42" y1="380.40" x2="653.42" y2="377.60" stroke="#555" stroke-width="1"/>
<line x1="555.50" y1="305.40" x2="664.30" y2="305.40" stroke="#777" stroke-width="1.40"/>
<line x1="664.30" y1="305.40" x2="664.30" y2="380.40" stroke="#777" stroke-width="1.20"/>
<line x1="555.50" y1="380.40" x2="664.30" y2="380.40" stroke="#444" stroke-width="1.50"/>
<line x1="555.50" y1="305.40" x2="555.50" y2="380.40" stroke="#aaa" stroke-width="1.20"/>
<path d="M555.50 305.65 L556.18 305.70 L556.86 305.74 L557.54 305.79 L558.22 305.83 L558.90 305.88 L559.58 305.93 L560.26 305.97 L560.94 306.02 L561.62 306.06 L562.30 306.11 L562.98 306.16 L563.66 306.20 L564.34 306.25 L565.02 306.30 L565.70 306.35 L566.38 306.40 L567.40 306.48 L568.42 306.55 L569.44 306.63 L570.46 306.71 L571.48 306.79 L572.50 306.87 L573.52 306.96 L574.54 307.04 L575.56 307.12 L576.58 307.21 L577.60 307.30 L578.62 307.39 L579.64 307.48 L580.66 307.58 L581.68 307.68 L582.70 307.77 L585.08 308.02 L587.46 308.28 L589.84 308.56 L592.22 308.85 L594.60 309.15 L596.98 309.46 L599.36 309.78 L601.74 310.10 L604.12 310.43 L606.50 310.75 L608.88 311.08 L611.26 311.41 L613.64 311.73 L616.02 312.04 L618.40 312.35 L620.78 312.65 L623.50 312.98 L626.22 313.31 L628.94 313.64 L631.66 313.96 L634.38 314.28 L637.10 314.60 L639.82 314.92 L642.54 315.24 L645.26 315.56 L647.98 315.87 L650.70 316.19 L653.42 316.50 L656.14 316.82 L658.86 317.14 L661.58 317.46 L664.30 317.77" fill="none" stroke="#0b6fd0" stroke-width="1.3" stroke-dasharray="2.4 1.5"/>
<path d="M555.50 380.02 L556.18 380.02 L556.86 380.02 L557.54 380.02 L558.22 380.02 L558.90 380.02 L559.58 380.02 L560.26 380.02 L560.94 380.02 L561.62 380.02 L562.30 380.02 L562.98 380.02 L563.66 380.02 L564.34 380.02 L565.02 380.02 L565.70 380.02 L566.38 380.02 L567.40 380.02 L568.42 380.01 L569.44 380.00 L570.46 379.97 L571.48 379.95 L572.50 379.92 L573.52 379.88 L574.54 379.85 L575.56 379.81 L576.58 379.77 L577.60 379.73 L578.62 379.69 L579.64 379.64 L580.66 379.60 L581.68 379.56 L582.70 379.52 L585.08 379.44 L587.46 379.35 L589.84 379.27 L592.22 379.18 L594.60 379.09 L596.98 378.99 L599.36 378.90 L601.74 378.80 L604.12 378.69 L606.50 378.58 L608.88 378.46 L611.26 378.34 L613.64 378.21 L616.02 378.07 L618.40 377.93 L620.78 377.77 L623.50 377.58 L626.22 377.34 L628.94 377.08 L631.66 376.78 L634.38 376.46 L637.10 376.12 L639.82 375.77 L642.54 375.40 L645.26 375.02 L647.98 374.63 L650.70 374.25 L653.42 373.86 L656.14 373.48 L658.86 373.11 L661.58 372.75 L664.30 372.40" fill="none" stroke="#ac2e2e" stroke-width="1.3" stroke-dasharray="2.4 1.5"/>
<circle cx="555.50" cy="305.65" r="2.65" fill="#0b6fd0"/>
<circle cx="566.38" cy="306.40" r="2.65" fill="#0b6fd0"/>
<circle cx="582.70" cy="307.77" r="2.65" fill="#0b6fd0"/>
<circle cx="620.78" cy="312.65" r="2.65" fill="#0b6fd0"/>
<circle cx="664.30" cy="317.77" r="2.65" fill="#0b6fd0"/>
<rect x="553.05" y="377.57" width="4.90" height="4.90" fill="#c40000"/>
<rect x="563.93" y="377.57" width="4.90" height="4.90" fill="#c40000"/>
<rect x="580.25" y="377.07" width="4.90" height="4.90" fill="#c40000"/>
<rect x="618.33" y="375.32" width="4.90" height="4.90" fill="#c40000"/>
<rect x="661.85" y="369.95" width="4.90" height="4.90" fill="#c40000"/>
<text x="551.40" y="386.55" font-size="14.60" text-anchor="end" fill="#111">0.2</text>
<text x="551.40" y="361.55" font-size="14.60" text-anchor="end" fill="#111">0.4</text>
<text x="551.40" y="336.55" font-size="14.60" text-anchor="end" fill="#111">0.6</text>
<text x="551.40" y="311.55" font-size="14.60" text-anchor="end" fill="#111">0.8</text>
<text x="555.50" y="394.70" font-size="14.60" text-anchor="middle" fill="#111">0</text>
<text x="610.40" y="394.70" font-size="14.60" text-anchor="middle" fill="#111">50</text>
<text x="660.80" y="394.70" font-size="14.60" text-anchor="middle" fill="#111">100</text>
<text x="508.80" y="350.50" font-size="18" font-style="italic" fill="#111">ω<tspan font-style="normal" font-size="20.5" dx="0.2" dy="1.8">/</tspan><tspan dx="0.6" dy="-1.8">γ</tspan></text>
<rect x="508.10" y="421.13" width="8.00" height="8.00" fill="#c40000"/>
<rect x="531.35" y="419.77" width="8.00" height="8.00" fill="#c40000"/>
<rect x="572.38" y="416.95" width="8.00" height="8.00" fill="#c40000"/>
<rect x="664.27" y="383.25" width="8.00" height="8.00" fill="#c40000"/>
<rect x="777.50" y="299.11" width="8.00" height="8.00" fill="#c40000"/>
<circle cx="510.74" cy="425.99" r="4.30" fill="#0b6ec8"/>
<circle cx="535.35" cy="428.55" r="4.30" fill="#0b6ec8"/>
<circle cx="576.38" cy="434.10" r="4.30" fill="#0b6ec8"/>
<circle cx="672.10" cy="455.37" r="4.30" fill="#0b6ec8"/>
<circle cx="781.50" cy="477.24" r="4.30" fill="#0b6ec8"/>
<path d="M510.74 420.03 L515.58 430.23 L505.89 430.23 Z" fill="#7ea446"/>
<path d="M535.35 422.17 L540.20 432.37 L530.50 432.37 Z" fill="#7ea446"/>
<path d="M576.38 425.59 L581.22 435.79 L571.53 435.79 Z" fill="#7ea446"/>
<path d="M672.10 442.07 L676.95 452.27 L667.25 452.27 Z" fill="#7ea446"/>
<path d="M781.50 462.49 L786.35 472.69 L776.65 472.69 Z" fill="#7ea446"/>
<text x="660.80" y="394.70" font-size="14.60" text-anchor="middle" fill="#111">100</text>
<text x="500.80" y="324.56" font-size="16.30" text-anchor="end" fill="#111">0.25</text>
<text x="500.80" y="367.27" font-size="16.30" text-anchor="end" fill="#111">0.15</text>
<text x="500.80" y="409.98" font-size="16.30" text-anchor="end" fill="#111">0.05</text>
<text x="500.80" y="452.69" font-size="16.30" text-anchor="end" fill="#111"><tspan dy="1.6">−</tspan><tspan dy="-1.6" dx="0.4">0.05</tspan></text>
<text x="500.80" y="495.40" font-size="16.30" text-anchor="end" fill="#111"><tspan dy="1.6">−</tspan><tspan dy="-1.6" dx="0.4">0.15</tspan></text>
<text x="508.80" y="506.90" font-size="16.30" text-anchor="middle" fill="#111">0</text>
<text x="563.50" y="506.90" font-size="16.30" text-anchor="middle" fill="#111">20</text>
<text x="618.20" y="506.90" font-size="16.30" text-anchor="middle" fill="#111">40</text>
<text x="672.90" y="506.90" font-size="16.30" text-anchor="middle" fill="#111">60</text>
<text x="727.60" y="506.90" font-size="16.30" text-anchor="middle" fill="#111">80</text>
<text x="782.30" y="506.90" font-size="16.30" text-anchor="middle" fill="#111">100</text>
<text x="57.50" y="57.60" font-size="18.2" fill="#111">(<tspan font-style="italic">a</tspan>)</text>
<text x="436.70" y="57.60" font-size="18.2" fill="#111">(<tspan font-style="italic">b</tspan>)</text>
<text x="57.40" y="302.10" font-size="18.2" fill="#111">(<tspan font-style="italic">c</tspan>)</text>
<text x="436.50" y="302.10" font-size="18.2" fill="#111">(<tspan font-style="italic">d</tspan>)</text>
<g transform="translate(71.0 0) rotate(-90)" fill="#111">
<text transform="translate(-225.30 0.00) scale(1.00 1)" font-size="19.50" text-anchor="middle" font-style="italic">ω</text>
<text transform="translate(-215.40 2.20) scale(1.00 1)" font-size="20.50" text-anchor="middle">/</text>
<text transform="translate(-204.50 0.00) scale(1.00 1)" font-size="19.50" text-anchor="middle" font-style="italic">ω</text>
<text transform="translate(-192.80 1.40) scale(1.00 1)" font-size="15.50" text-anchor="middle" font-style="italic">J</text>
<text transform="translate(-177.80 1.50) scale(1.10 1)" font-size="19.50" text-anchor="middle">−</text>
<text transform="translate(-163.90 0.00) scale(1.00 1)" font-size="19.50" text-anchor="middle">1</text>
<text transform="translate(-154.80 0.00) scale(1.00 1)" font-size="19.50" text-anchor="middle">,</text>
<text transform="translate(-140.60 0.00) scale(1.30 1)" font-size="19.50" text-anchor="middle" font-style="italic">T</text>
<text transform="translate(-128.90 2.20) scale(1.00 1)" font-size="20.50" text-anchor="middle">/</text>
<text transform="translate(-119.00 0.00) scale(1.30 1)" font-size="19.50" text-anchor="middle" font-style="italic">T</text>
<text transform="translate(-109.50 3.40) scale(1.00 1)" font-size="15.50" text-anchor="middle" font-style="italic">J</text>
<text transform="translate(-93.40 1.50) scale(1.10 1)" font-size="19.50" text-anchor="middle">−</text>
<text transform="translate(-78.40 0.00) scale(1.00 1)" font-size="19.50" text-anchor="middle">1</text>
</g>
<g transform="translate(71.0 0) rotate(-90)" fill="#111">
<text transform="translate(-470.00 0.00) scale(1.00 1)" font-size="19.50" text-anchor="middle" font-style="italic">ω</text>
<text transform="translate(-460.10 2.20) scale(1.00 1)" font-size="20.50" text-anchor="middle">/</text>
<text transform="translate(-449.20 0.00) scale(1.00 1)" font-size="19.50" text-anchor="middle" font-style="italic">ω</text>
<text transform="translate(-437.50 1.40) scale(1.00 1)" font-size="15.50" text-anchor="middle" font-style="italic">J</text>
<text transform="translate(-422.50 1.50) scale(1.10 1)" font-size="19.50" text-anchor="middle">−</text>
<text transform="translate(-408.60 0.00) scale(1.00 1)" font-size="19.50" text-anchor="middle">1</text>
<text transform="translate(-399.50 0.00) scale(1.00 1)" font-size="19.50" text-anchor="middle">,</text>
<text transform="translate(-385.30 0.00) scale(1.30 1)" font-size="19.50" text-anchor="middle" font-style="italic">T</text>
<text transform="translate(-373.60 2.20) scale(1.00 1)" font-size="20.50" text-anchor="middle">/</text>
<text transform="translate(-363.70 0.00) scale(1.30 1)" font-size="19.50" text-anchor="middle" font-style="italic">T</text>
<text transform="translate(-354.20 3.40) scale(1.00 1)" font-size="15.50" text-anchor="middle" font-style="italic">J</text>
<text transform="translate(-338.10 1.50) scale(1.10 1)" font-size="19.50" text-anchor="middle">−</text>
<text transform="translate(-323.10 0.00) scale(1.00 1)" font-size="19.50" text-anchor="middle">1</text>
</g>
<text x="268.00" y="534.0" font-size="19.5" font-style="italic" text-anchor="middle" fill="#111">St</text>
<text x="645.00" y="534.0" font-size="19.5" font-style="italic" text-anchor="middle" fill="#111">St</text>
<rect x="362.8" y="522.6" width="175.1" height="23.9" fill="#fafafa" stroke="#444" stroke-width="1.2"/>
<circle cx="374.00" cy="534.90" r="4.20" fill="#3d6db4"/>
<text x="381.4" y="539.5" font-size="17" font-style="italic" fill="#111">ω<tspan font-size="12" dy="3">max</tspan></text>
<rect x="425.50" y="531.00" width="7.00" height="7.00" fill="#c40000"/>
<text x="436.5" y="539.5" font-size="17" font-style="italic" fill="#111">ω<tspan font-size="12" dy="3">min</tspan></text>
<path d="M481.00 531.25 L485.04 539.75 L476.96 539.75 Z" fill="#7ea446"/>
<text x="489.0" y="538.6" font-size="15.8" fill="#111">Period</text>
</svg>
</body></html>
